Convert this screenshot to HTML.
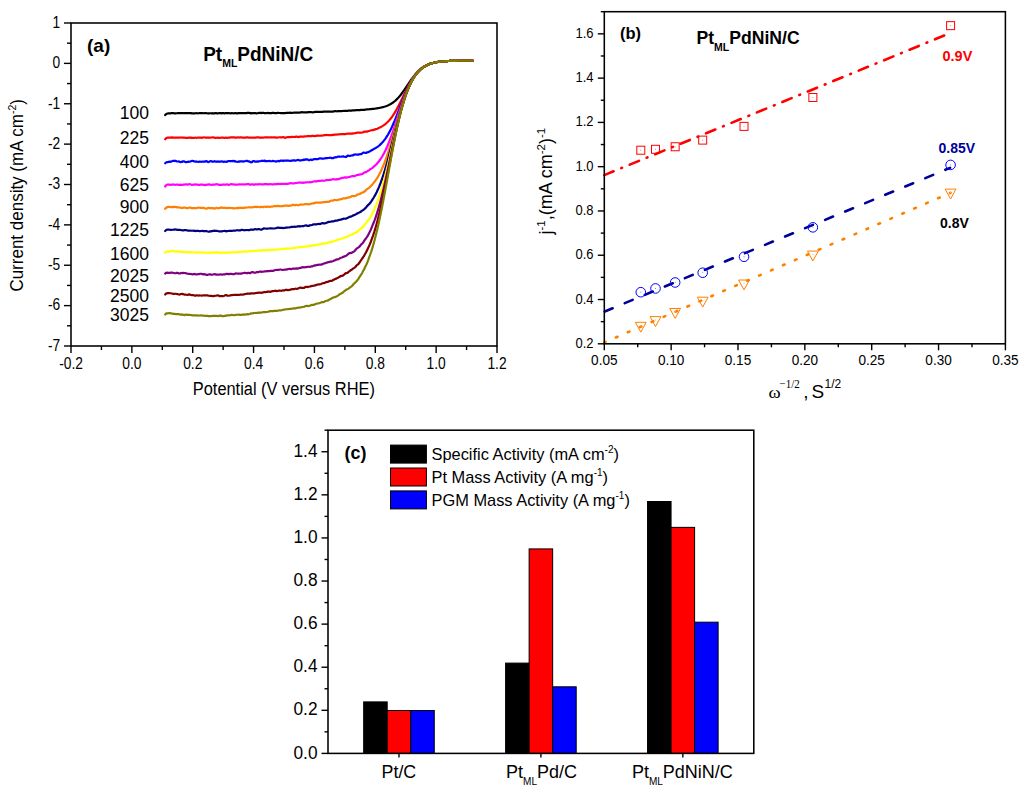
<!DOCTYPE html>
<html><head><meta charset="utf-8"><title>Figure</title>
<style>html,body{margin:0;padding:0;background:#fff;}svg{display:block;}</style>
</head><body>
<svg width="1024" height="795" viewBox="0 0 1024 795" font-family="'Liberation Sans', sans-serif">
<rect width="1024" height="795" fill="#fff"/>
<path d="M165.18,115.05 L165.94,114.18 L166.70,113.88 L167.46,113.51 L168.22,113.42 L168.98,113.44 L169.74,113.39 L170.50,113.41 L171.26,113.08 L172.02,113.04 L172.78,113.01 L173.54,113.22 L174.31,113.28 L175.07,113.32 L175.83,113.33 L176.59,113.26 L177.35,113.21 L178.11,113.13 L178.87,113.17 L179.63,113.15 L180.39,113.11 L181.15,113.07 L181.91,113.10 L182.67,113.21 L183.43,113.21 L184.19,113.06 L184.96,113.06 L185.72,113.11 L186.48,113.17 L187.24,113.21 L188.00,113.21 L188.76,113.22 L189.52,113.13 L190.28,113.10 L191.04,113.12 L191.80,113.32 L192.56,113.27 L193.32,113.37 L194.08,113.29 L194.84,113.34 L195.61,113.24 L196.37,113.17 L197.13,113.25 L197.89,113.29 L198.65,113.26 L199.41,113.11 L200.17,113.07 L200.93,113.06 L201.69,113.07 L202.45,113.13 L203.21,113.20 L203.97,113.23 L204.73,113.18 L205.49,113.14 L206.26,113.22 L207.02,113.24 L207.78,113.38 L208.54,113.29 L209.30,113.28 L210.06,113.23 L210.82,113.26 L211.58,113.35 L212.34,113.21 L213.10,113.33 L213.86,113.33 L214.62,113.33 L215.38,113.14 L216.14,113.21 L216.91,113.29 L217.67,113.34 L218.43,113.24 L219.19,113.12 L219.95,113.21 L220.71,113.15 L221.47,113.31 L222.23,113.15 L222.99,113.17 L223.75,113.13 L224.51,113.32 L225.27,113.22 L226.03,113.15 L226.79,113.00 L227.56,113.03 L228.32,113.05 L229.08,113.14 L229.84,113.25 L230.60,113.32 L231.36,113.20 L232.12,113.24 L232.88,113.22 L233.64,113.32 L234.40,113.22 L235.16,113.15 L235.92,113.20 L236.68,113.32 L237.44,113.35 L238.21,113.20 L238.97,113.05 L239.73,113.04 L240.49,113.13 L241.25,113.15 L242.01,113.18 L242.77,113.11 L243.53,113.17 L244.29,113.15 L245.05,113.20 L245.81,113.12 L246.57,113.11 L247.33,112.95 L248.09,112.89 L248.86,112.81 L249.62,113.09 L250.38,113.19 L251.14,113.32 L251.90,113.16 L252.66,113.28 L253.42,113.17 L254.18,113.13 L254.94,113.07 L255.70,113.20 L256.46,113.31 L257.22,113.22 L257.98,113.12 L258.74,112.95 L259.51,112.96 L260.27,112.95 L261.03,113.06 L261.79,112.94 L262.55,112.94 L263.31,112.86 L264.07,113.03 L264.83,113.08 L265.59,113.21 L266.35,113.05 L267.11,113.00 L267.87,112.96 L268.63,113.08 L269.39,113.08 L270.16,113.11 L270.92,113.13 L271.68,113.13 L272.44,112.93 L273.20,112.89 L273.96,112.95 L274.72,113.16 L275.48,113.22 L276.24,113.16 L277.00,113.03 L277.76,112.94 L278.52,112.95 L279.28,112.99 L280.04,112.98 L280.81,113.08 L281.57,113.11 L282.33,113.10 L283.09,113.04 L283.85,113.03 L284.61,113.08 L285.37,113.04 L286.13,112.95 L286.89,112.91 L287.65,112.88 L288.41,112.87 L289.17,112.79 L289.93,112.66 L290.69,112.82 L291.46,112.78 L292.22,112.90 L292.98,112.74 L293.74,112.72 L294.50,112.61 L295.26,112.53 L296.02,112.55 L296.78,112.50 L297.54,112.55 L298.30,112.55 L299.06,112.57 L299.82,112.56 L300.58,112.40 L301.34,112.36 L302.11,112.17 L302.87,112.28 L303.63,112.34 L304.39,112.43 L305.15,112.36 L305.91,112.34 L306.67,112.30 L307.43,112.32 L308.19,112.16 L308.95,112.20 L309.71,112.10 L310.47,112.21 L311.23,112.20 L311.99,112.28 L312.76,112.29 L313.52,112.19 L314.28,112.06 L315.04,111.95 L315.80,111.89 L316.56,111.83 L317.32,111.79 L318.08,111.79 L318.84,111.88 L319.60,111.97 L320.36,111.90 L321.12,111.97 L321.88,111.80 L322.64,111.82 L323.41,111.62 L324.17,111.64 L324.93,111.66 L325.69,111.68 L326.45,111.68 L327.21,111.61 L327.97,111.60 L328.73,111.55 L329.49,111.52 L330.25,111.54 L331.01,111.51 L331.77,111.60 L332.53,111.53 L333.29,111.56 L334.06,111.33 L334.82,111.21 L335.58,111.22 L336.34,111.25 L337.10,111.30 L337.86,111.21 L338.62,111.15 L339.38,111.14 L340.14,111.15 L340.90,111.16 L341.66,111.11 L342.42,110.96 L343.18,110.99 L343.94,110.91 L344.71,110.83 L345.47,110.79 L346.23,110.84 L346.99,110.85 L347.75,110.78 L348.51,110.60 L349.27,110.55 L350.03,110.54 L350.79,110.66 L351.55,110.64 L352.31,110.41 L353.07,110.33 L353.83,110.28 L354.59,110.35 L355.36,110.30 L356.12,110.13 L356.88,110.15 L357.64,110.06 L358.40,110.14 L359.16,110.02 L359.92,110.09 L360.68,109.94 L361.44,109.94 L362.20,109.81 L362.96,109.92 L363.72,109.90 L364.48,109.81 L365.24,109.63 L366.01,109.48 L366.77,109.38 L367.53,109.34 L368.29,109.32 L369.05,109.27 L369.81,109.20 L370.57,109.13 L371.33,109.06 L372.09,108.95 L372.85,108.86 L373.61,108.80 L374.37,108.72 L375.13,108.58 L375.89,108.47 L376.66,108.38 L377.42,108.29 L378.18,108.14 L378.94,108.02 L379.70,107.87 L380.46,107.71 L381.22,107.54 L381.98,107.36 L382.74,107.17 L383.50,106.96 L384.26,106.73 L385.02,106.49 L385.78,106.23 L386.54,105.95 L387.31,105.65 L388.07,105.33 L388.83,104.98 L389.59,104.60 L390.35,104.20 L391.11,103.76 L391.87,103.29 L392.63,102.78 L393.39,102.24 L394.15,101.65 L394.91,101.03 L395.67,100.36 L396.43,99.65 L397.19,98.90 L397.96,98.10 L398.72,97.26 L399.48,96.38 L400.24,95.46 L401.00,94.49 L401.76,93.49 L402.52,92.46 L403.28,91.40 L404.04,90.31 L404.80,89.21 L405.56,88.08 L406.32,86.95 L407.08,85.81 L407.84,84.66 L408.61,83.53 L409.37,82.40 L410.13,81.29 L410.89,80.20 L411.65,79.13 L412.41,78.09 L413.17,77.08 L413.93,76.10 L414.69,75.16 L415.45,74.26 L416.21,73.39 L416.97,72.56 L417.73,71.77 L418.49,71.02 L419.26,70.31 L420.02,69.64 L420.78,69.00 L421.54,68.41 L422.30,67.84 L423.06,67.32 L423.82,66.82 L424.58,66.36 L425.34,65.93 L426.10,65.52 L426.86,65.15 L427.62,64.80 L428.38,64.47 L429.14,64.17 L429.91,63.89 L430.67,63.63 L431.43,63.38 L432.19,63.16 L432.95,62.95 L433.71,62.76 L434.47,62.59 L435.23,62.43 L435.99,62.28 L436.75,62.14 L437.51,62.01 L438.27,61.89 L439.03,61.79 L439.79,61.69 L440.56,61.60 L441.32,61.52 L442.08,61.44 L442.84,61.37 L443.60,61.31 L444.36,61.25 L445.12,61.19 L445.88,61.15 L446.64,61.10 L447.40,61.06 L448.16,61.02 L448.92,60.99 L449.68,60.96 L450.44,60.93 L451.21,60.91 L451.97,60.88 L452.73,60.86 L453.49,60.84 L454.25,60.83 L455.01,60.81 L455.77,60.80 L456.53,60.78 L457.29,60.77 L458.05,60.76 L458.81,60.75 L459.57,60.74 L460.33,60.74 L461.09,60.73 L461.86,60.72 L462.62,60.72 L463.38,60.71 L464.14,60.71 L464.90,60.70 L465.66,60.70 L466.42,60.70 L467.18,60.69 L467.94,60.69 L468.70,60.69 L469.46,60.69 L470.22,60.68 L470.98,60.68 L471.74,60.68 L472.51,60.68" fill="none" stroke="#000000" stroke-width="2.2" stroke-linejoin="round" stroke-linecap="round"/>
<path d="M165.18,139.25 L165.94,138.33 L166.70,137.93 L167.46,137.71 L168.22,137.61 L168.98,137.54 L169.74,137.66 L170.50,137.57 L171.26,137.60 L172.02,137.37 L172.78,137.65 L173.54,137.61 L174.31,137.69 L175.07,137.56 L175.83,137.58 L176.59,137.60 L177.35,137.52 L178.11,137.60 L178.87,137.67 L179.63,137.64 L180.39,137.49 L181.15,137.47 L181.91,137.55 L182.67,137.63 L183.43,137.56 L184.19,137.65 L184.96,137.77 L185.72,137.85 L186.48,137.85 L187.24,137.79 L188.00,137.79 L188.76,137.67 L189.52,137.71 L190.28,137.65 L191.04,137.83 L191.80,137.70 L192.56,137.89 L193.32,137.85 L194.08,137.84 L194.84,137.75 L195.61,137.71 L196.37,137.80 L197.13,137.73 L197.89,137.67 L198.65,137.63 L199.41,137.59 L200.17,137.64 L200.93,137.68 L201.69,137.80 L202.45,137.65 L203.21,137.53 L203.97,137.39 L204.73,137.48 L205.49,137.58 L206.26,137.61 L207.02,137.64 L207.78,137.56 L208.54,137.57 L209.30,137.60 L210.06,137.67 L210.82,137.74 L211.58,137.54 L212.34,137.33 L213.10,137.32 L213.86,137.46 L214.62,137.86 L215.38,137.83 L216.14,137.83 L216.91,137.73 L217.67,137.69 L218.43,137.81 L219.19,137.74 L219.95,137.79 L220.71,137.77 L221.47,137.68 L222.23,137.61 L222.99,137.62 L223.75,137.80 L224.51,137.83 L225.27,137.72 L226.03,137.71 L226.79,137.78 L227.56,137.78 L228.32,137.69 L229.08,137.60 L229.84,137.56 L230.60,137.41 L231.36,137.36 L232.12,137.33 L232.88,137.39 L233.64,137.39 L234.40,137.39 L235.16,137.57 L235.92,137.61 L236.68,137.65 L237.44,137.42 L238.21,137.48 L238.97,137.44 L239.73,137.54 L240.49,137.41 L241.25,137.44 L242.01,137.49 L242.77,137.59 L243.53,137.64 L244.29,137.60 L245.05,137.63 L245.81,137.56 L246.57,137.42 L247.33,137.45 L248.09,137.46 L248.86,137.63 L249.62,137.54 L250.38,137.64 L251.14,137.67 L251.90,137.73 L252.66,137.58 L253.42,137.53 L254.18,137.56 L254.94,137.67 L255.70,137.62 L256.46,137.46 L257.22,137.36 L257.98,137.38 L258.74,137.46 L259.51,137.56 L260.27,137.59 L261.03,137.65 L261.79,137.54 L262.55,137.52 L263.31,137.59 L264.07,137.52 L264.83,137.37 L265.59,137.29 L266.35,137.34 L267.11,137.45 L267.87,137.36 L268.63,137.51 L269.39,137.40 L270.16,137.49 L270.92,137.26 L271.68,137.38 L272.44,137.37 L273.20,137.48 L273.96,137.41 L274.72,137.44 L275.48,137.45 L276.24,137.56 L277.00,137.62 L277.76,137.48 L278.52,137.39 L279.28,137.24 L280.04,137.24 L280.81,137.36 L281.57,137.35 L282.33,137.29 L283.09,137.12 L283.85,137.27 L284.61,137.67 L285.37,137.81 L286.13,137.52 L286.89,137.27 L287.65,137.18 L288.41,137.20 L289.17,137.20 L289.93,137.14 L290.69,137.10 L291.46,136.96 L292.22,136.92 L292.98,137.00 L293.74,136.97 L294.50,137.00 L295.26,136.82 L296.02,136.62 L296.78,136.61 L297.54,136.86 L298.30,137.06 L299.06,136.94 L299.82,136.64 L300.58,136.48 L301.34,136.54 L302.11,136.65 L302.87,136.59 L303.63,136.58 L304.39,136.39 L305.15,136.47 L305.91,136.28 L306.67,136.27 L307.43,136.15 L308.19,136.10 L308.95,136.19 L309.71,136.19 L310.47,136.21 L311.23,136.07 L311.99,135.95 L312.76,135.93 L313.52,135.97 L314.28,136.08 L315.04,136.04 L315.80,135.88 L316.56,135.85 L317.32,135.68 L318.08,135.68 L318.84,135.59 L319.60,135.75 L320.36,135.71 L321.12,135.59 L321.88,135.59 L322.64,135.47 L323.41,135.35 L324.17,135.14 L324.93,135.15 L325.69,135.04 L326.45,134.93 L327.21,134.99 L327.97,135.14 L328.73,135.21 L329.49,135.10 L330.25,135.24 L331.01,135.12 L331.77,135.11 L332.53,134.85 L333.29,134.87 L334.06,134.70 L334.82,134.69 L335.58,134.69 L336.34,134.66 L337.10,134.47 L337.86,134.37 L338.62,134.25 L339.38,134.29 L340.14,134.25 L340.90,134.18 L341.66,134.21 L342.42,134.03 L343.18,134.13 L343.94,133.97 L344.71,134.09 L345.47,134.06 L346.23,133.95 L346.99,133.78 L347.75,133.65 L348.51,133.71 L349.27,133.63 L350.03,133.69 L350.79,133.68 L351.55,133.67 L352.31,133.56 L353.07,133.46 L353.83,133.38 L354.59,133.25 L355.36,133.14 L356.12,132.92 L356.88,132.74 L357.64,132.54 L358.40,132.59 L359.16,132.62 L359.92,132.74 L360.68,132.67 L361.44,132.70 L362.20,132.52 L362.96,132.32 L363.72,131.91 L364.48,131.66 L365.24,131.67 L366.01,131.63 L366.77,131.63 L367.53,131.35 L368.29,131.25 L369.05,130.98 L369.81,130.71 L370.57,130.49 L371.33,130.25 L372.09,130.19 L372.85,130.06 L373.61,129.89 L374.37,129.60 L375.13,129.38 L375.89,129.16 L376.66,128.97 L377.42,128.66 L378.18,128.32 L378.94,127.96 L379.70,127.61 L380.46,127.24 L381.22,126.82 L381.98,126.38 L382.74,125.91 L383.50,125.40 L384.26,124.86 L385.02,124.29 L385.78,123.67 L386.54,123.01 L387.31,122.31 L388.07,121.56 L388.83,120.76 L389.59,119.91 L390.35,119.01 L391.11,118.05 L391.87,117.04 L392.63,115.97 L393.39,114.84 L394.15,113.66 L394.91,112.42 L395.67,111.13 L396.43,109.79 L397.19,108.40 L397.96,106.97 L398.72,105.49 L399.48,103.99 L400.24,102.45 L401.00,100.89 L401.76,99.32 L402.52,97.74 L403.28,96.15 L404.04,94.57 L404.80,93.00 L405.56,91.44 L406.32,89.91 L407.08,88.40 L407.84,86.93 L408.61,85.50 L409.37,84.10 L410.13,82.75 L410.89,81.45 L411.65,80.20 L412.41,79.00 L413.17,77.85 L413.93,76.75 L414.69,75.70 L415.45,74.71 L416.21,73.76 L416.97,72.87 L417.73,72.03 L418.49,71.23 L419.26,70.49 L420.02,69.78 L420.78,69.12 L421.54,68.50 L422.30,67.92 L423.06,67.38 L423.82,66.87 L424.58,66.40 L425.34,65.96 L426.10,65.55 L426.86,65.17 L427.62,64.81 L428.38,64.48 L429.14,64.18 L429.91,63.90 L430.67,63.63 L431.43,63.39 L432.19,63.17 L432.95,62.96 L433.71,62.77 L434.47,62.59 L435.23,62.43 L435.99,62.28 L436.75,62.14 L437.51,62.01 L438.27,61.89 L439.03,61.79 L439.79,61.69 L440.56,61.60 L441.32,61.52 L442.08,61.44 L442.84,61.37 L443.60,61.31 L444.36,61.25 L445.12,61.19 L445.88,61.15 L446.64,61.10 L447.40,61.06 L448.16,61.02 L448.92,60.99 L449.68,60.96 L450.44,60.93 L451.21,60.91 L451.97,60.88 L452.73,60.86 L453.49,60.84 L454.25,60.83 L455.01,60.81 L455.77,60.80 L456.53,60.78 L457.29,60.77 L458.05,60.76 L458.81,60.75 L459.57,60.74 L460.33,60.74 L461.09,60.73 L461.86,60.72 L462.62,60.72 L463.38,60.71 L464.14,60.71 L464.90,60.70 L465.66,60.70 L466.42,60.70 L467.18,60.69 L467.94,60.69 L468.70,60.69 L469.46,60.69 L470.22,60.68 L470.98,60.68 L471.74,60.68 L472.51,60.68" fill="none" stroke="#FF0000" stroke-width="2.2" stroke-linejoin="round" stroke-linecap="round"/>
<path d="M165.18,163.26 L165.94,162.59 L166.70,162.14 L167.46,162.27 L168.22,161.89 L168.98,161.85 L169.74,161.61 L170.50,161.88 L171.26,161.50 L172.02,161.17 L172.78,160.92 L173.54,160.81 L174.31,161.05 L175.07,160.69 L175.83,160.97 L176.59,161.36 L177.35,161.48 L178.11,161.52 L178.87,161.43 L179.63,161.82 L180.39,162.09 L181.15,161.93 L181.91,162.01 L182.67,161.44 L183.43,161.29 L184.19,161.40 L184.96,161.94 L185.72,162.16 L186.48,162.21 L187.24,161.96 L188.00,161.86 L188.76,161.65 L189.52,161.73 L190.28,161.63 L191.04,161.24 L191.80,160.87 L192.56,160.95 L193.32,161.05 L194.08,161.46 L194.84,161.39 L195.61,161.72 L196.37,161.45 L197.13,161.75 L197.89,161.75 L198.65,161.89 L199.41,161.56 L200.17,161.65 L200.93,161.74 L201.69,161.82 L202.45,161.52 L203.21,161.57 L203.97,161.58 L204.73,161.67 L205.49,161.26 L206.26,161.18 L207.02,161.37 L207.78,162.02 L208.54,162.11 L209.30,161.65 L210.06,161.22 L210.82,161.08 L211.58,161.38 L212.34,161.66 L213.10,161.68 L213.86,161.58 L214.62,161.21 L215.38,161.59 L216.14,161.58 L216.91,161.82 L217.67,161.42 L218.43,161.56 L219.19,161.55 L219.95,161.80 L220.71,161.47 L221.47,161.35 L222.23,161.38 L222.99,161.80 L223.75,161.99 L224.51,161.58 L225.27,161.73 L226.03,161.69 L226.79,161.84 L227.56,161.29 L228.32,161.16 L229.08,161.13 L229.84,161.21 L230.60,161.00 L231.36,161.13 L232.12,160.97 L232.88,161.11 L233.64,160.83 L234.40,161.32 L235.16,161.19 L235.92,161.69 L236.68,161.76 L237.44,161.83 L238.21,161.75 L238.97,161.39 L239.73,161.67 L240.49,161.23 L241.25,161.30 L242.01,161.31 L242.77,161.56 L243.53,161.40 L244.29,161.33 L245.05,161.26 L245.81,161.05 L246.57,160.74 L247.33,160.84 L248.09,161.31 L248.86,161.35 L249.62,161.62 L250.38,162.07 L251.14,162.29 L251.90,162.20 L252.66,161.33 L253.42,161.18 L254.18,161.15 L254.94,161.68 L255.70,161.60 L256.46,161.57 L257.22,161.46 L257.98,161.56 L258.74,161.39 L259.51,161.26 L260.27,161.21 L261.03,160.99 L261.79,160.69 L262.55,161.00 L263.31,160.76 L264.07,161.04 L264.83,160.51 L265.59,161.10 L266.35,161.06 L267.11,161.24 L267.87,161.08 L268.63,160.98 L269.39,160.89 L270.16,161.09 L270.92,161.26 L271.68,161.23 L272.44,160.92 L273.20,160.95 L273.96,161.12 L274.72,161.27 L275.48,161.40 L276.24,161.57 L277.00,161.25 L277.76,161.12 L278.52,160.86 L279.28,161.27 L280.04,160.94 L280.81,160.63 L281.57,160.52 L282.33,160.64 L283.09,161.07 L283.85,160.69 L284.61,160.59 L285.37,160.58 L286.13,160.65 L286.89,160.72 L287.65,160.46 L288.41,160.60 L289.17,160.75 L289.93,160.89 L290.69,160.80 L291.46,160.65 L292.22,160.69 L292.98,160.39 L293.74,160.38 L294.50,160.27 L295.26,160.72 L296.02,160.51 L296.78,160.19 L297.54,159.97 L298.30,159.89 L299.06,160.29 L299.82,160.36 L300.58,160.55 L301.34,160.23 L302.11,160.02 L302.87,160.25 L303.63,159.63 L304.39,159.82 L305.15,159.34 L305.91,159.70 L306.67,159.33 L307.43,159.30 L308.19,159.92 L308.95,160.22 L309.71,160.06 L310.47,159.65 L311.23,159.58 L311.99,160.09 L312.76,159.65 L313.52,159.30 L314.28,158.98 L315.04,159.17 L315.80,159.22 L316.56,159.20 L317.32,159.17 L318.08,159.05 L318.84,158.68 L319.60,158.35 L320.36,158.33 L321.12,158.45 L321.88,158.55 L322.64,158.61 L323.41,158.70 L324.17,158.51 L324.93,158.40 L325.69,158.09 L326.45,158.12 L327.21,158.18 L327.97,158.02 L328.73,157.99 L329.49,157.74 L330.25,157.71 L331.01,157.86 L331.77,158.17 L332.53,158.22 L333.29,158.18 L334.06,157.54 L334.82,157.37 L335.58,157.22 L336.34,157.29 L337.10,157.01 L337.86,156.63 L338.62,156.49 L339.38,156.57 L340.14,156.75 L340.90,156.75 L341.66,156.64 L342.42,156.52 L343.18,156.36 L343.94,156.58 L344.71,156.77 L345.47,157.04 L346.23,156.83 L346.99,156.19 L347.75,155.58 L348.51,155.59 L349.27,156.02 L350.03,155.99 L350.79,155.63 L351.55,155.50 L352.31,155.35 L353.07,155.29 L353.83,154.69 L354.59,154.70 L355.36,154.45 L356.12,154.50 L356.88,154.60 L357.64,154.67 L358.40,154.70 L359.16,154.23 L359.92,154.21 L360.68,154.20 L361.44,154.05 L362.20,153.48 L362.96,152.75 L363.72,152.48 L364.48,152.75 L365.24,152.92 L366.01,152.99 L366.77,152.46 L367.53,152.44 L368.29,152.06 L369.05,151.71 L369.81,151.23 L370.57,150.89 L371.33,150.44 L372.09,149.97 L372.85,149.51 L373.61,149.15 L374.37,148.71 L375.13,148.33 L375.89,147.96 L376.66,147.40 L377.42,146.91 L378.18,146.35 L378.94,145.74 L379.70,145.09 L380.46,144.37 L381.22,143.62 L381.98,142.83 L382.74,141.99 L383.50,141.09 L384.26,140.13 L385.02,139.12 L385.78,138.05 L386.54,136.91 L387.31,135.71 L388.07,134.45 L388.83,133.12 L389.59,131.72 L390.35,130.26 L391.11,128.73 L391.87,127.14 L392.63,125.48 L393.39,123.77 L394.15,121.99 L394.91,120.17 L395.67,118.31 L396.43,116.40 L397.19,114.46 L397.96,112.50 L398.72,110.52 L399.48,108.53 L400.24,106.54 L401.00,104.55 L401.76,102.57 L402.52,100.62 L403.28,98.69 L404.04,96.80 L404.80,94.94 L405.56,93.13 L406.32,91.37 L407.08,89.67 L407.84,88.01 L408.61,86.42 L409.37,84.89 L410.13,83.42 L410.89,82.02 L411.65,80.67 L412.41,79.40 L413.17,78.18 L413.93,77.03 L414.69,75.93 L415.45,74.90 L416.21,73.92 L416.97,73.00 L417.73,72.14 L418.49,71.32 L419.26,70.56 L420.02,69.84 L420.78,69.17 L421.54,68.54 L422.30,67.95 L423.06,67.41 L423.82,66.89 L424.58,66.42 L425.34,65.97 L426.10,65.56 L426.86,65.18 L427.62,64.82 L428.38,64.49 L429.14,64.18 L429.91,63.90 L430.67,63.64 L431.43,63.39 L432.19,63.17 L432.95,62.96 L433.71,62.77 L434.47,62.59 L435.23,62.43 L435.99,62.28 L436.75,62.14 L437.51,62.01 L438.27,61.90 L439.03,61.79 L439.79,61.69 L440.56,61.60 L441.32,61.52 L442.08,61.44 L442.84,61.37 L443.60,61.31 L444.36,61.25 L445.12,61.19 L445.88,61.15 L446.64,61.10 L447.40,61.06 L448.16,61.02 L448.92,60.99 L449.68,60.96 L450.44,60.93 L451.21,60.91 L451.97,60.88 L452.73,60.86 L453.49,60.84 L454.25,60.83 L455.01,60.81 L455.77,60.80 L456.53,60.78 L457.29,60.77 L458.05,60.76 L458.81,60.75 L459.57,60.74 L460.33,60.74 L461.09,60.73 L461.86,60.72 L462.62,60.72 L463.38,60.71 L464.14,60.71 L464.90,60.70 L465.66,60.70 L466.42,60.70 L467.18,60.69 L467.94,60.69 L468.70,60.69 L469.46,60.69 L470.22,60.68 L470.98,60.68 L471.74,60.68 L472.51,60.68" fill="none" stroke="#0000FF" stroke-width="2.2" stroke-linejoin="round" stroke-linecap="round"/>
<path d="M165.18,186.48 L165.94,185.49 L166.70,184.77 L167.46,184.57 L168.22,184.54 L168.98,184.64 L169.74,184.71 L170.50,184.81 L171.26,184.72 L172.02,184.50 L172.78,184.56 L173.54,184.43 L174.31,184.74 L175.07,184.73 L175.83,184.86 L176.59,184.53 L177.35,184.52 L178.11,184.77 L178.87,184.87 L179.63,184.80 L180.39,184.68 L181.15,184.86 L181.91,184.94 L182.67,184.80 L183.43,184.60 L184.19,184.69 L184.96,184.43 L185.72,184.52 L186.48,184.39 L187.24,184.59 L188.00,184.57 L188.76,184.24 L189.52,184.20 L190.28,184.26 L191.04,184.59 L191.80,184.78 L192.56,184.78 L193.32,184.65 L194.08,184.67 L194.84,184.44 L195.61,184.53 L196.37,184.47 L197.13,184.55 L197.89,184.78 L198.65,184.88 L199.41,184.92 L200.17,184.68 L200.93,184.57 L201.69,184.60 L202.45,184.67 L203.21,184.69 L203.97,184.91 L204.73,185.06 L205.49,184.89 L206.26,184.84 L207.02,184.70 L207.78,184.68 L208.54,184.44 L209.30,184.42 L210.06,184.65 L210.82,184.79 L211.58,184.84 L212.34,184.71 L213.10,184.68 L213.86,184.55 L214.62,184.53 L215.38,184.46 L216.14,184.25 L216.91,184.16 L217.67,184.45 L218.43,184.56 L219.19,184.88 L219.95,184.84 L220.71,184.87 L221.47,184.81 L222.23,184.68 L222.99,184.63 L223.75,184.62 L224.51,184.69 L225.27,184.78 L226.03,184.55 L226.79,184.37 L227.56,184.59 L228.32,184.82 L229.08,184.90 L229.84,184.47 L230.60,184.28 L231.36,184.15 L232.12,184.24 L232.88,184.38 L233.64,184.42 L234.40,184.50 L235.16,184.57 L235.92,184.63 L236.68,184.62 L237.44,184.62 L238.21,184.52 L238.97,184.49 L239.73,184.22 L240.49,184.41 L241.25,184.48 L242.01,184.42 L242.77,184.23 L243.53,184.33 L244.29,184.47 L245.05,184.39 L245.81,184.29 L246.57,184.26 L247.33,184.12 L248.09,184.10 L248.86,184.16 L249.62,184.58 L250.38,184.65 L251.14,184.44 L251.90,184.33 L252.66,184.39 L253.42,184.67 L254.18,184.64 L254.94,184.40 L255.70,184.36 L256.46,184.27 L257.22,184.41 L257.98,184.27 L258.74,184.28 L259.51,184.14 L260.27,184.22 L261.03,184.29 L261.79,184.30 L262.55,184.39 L263.31,184.34 L264.07,184.32 L264.83,184.03 L265.59,184.04 L266.35,184.12 L267.11,184.21 L267.87,184.29 L268.63,184.28 L269.39,184.23 L270.16,184.10 L270.92,184.18 L271.68,184.26 L272.44,184.54 L273.20,184.30 L273.96,184.31 L274.72,184.01 L275.48,184.23 L276.24,184.16 L277.00,184.12 L277.76,183.85 L278.52,183.99 L279.28,183.93 L280.04,184.05 L280.81,183.95 L281.57,183.97 L282.33,183.96 L283.09,183.88 L283.85,183.99 L284.61,183.90 L285.37,183.82 L286.13,183.72 L286.89,183.83 L287.65,183.86 L288.41,183.75 L289.17,183.43 L289.93,183.33 L290.69,183.16 L291.46,183.27 L292.22,183.35 L292.98,183.40 L293.74,183.46 L294.50,183.23 L295.26,183.12 L296.02,182.99 L296.78,182.99 L297.54,182.76 L298.30,182.64 L299.06,182.54 L299.82,182.68 L300.58,182.66 L301.34,182.64 L302.11,182.62 L302.87,182.84 L303.63,182.59 L304.39,182.70 L305.15,182.47 L305.91,182.51 L306.67,182.31 L307.43,182.26 L308.19,182.23 L308.95,182.30 L309.71,182.16 L310.47,182.29 L311.23,182.18 L311.99,181.98 L312.76,181.71 L313.52,181.50 L314.28,181.36 L315.04,181.30 L315.80,181.34 L316.56,181.41 L317.32,181.13 L318.08,180.97 L318.84,180.82 L319.60,180.96 L320.36,180.85 L321.12,180.76 L321.88,180.67 L322.64,180.64 L323.41,180.71 L324.17,180.74 L324.93,180.59 L325.69,180.32 L326.45,180.02 L327.21,179.97 L327.97,180.08 L328.73,180.02 L329.49,179.86 L330.25,179.85 L331.01,179.73 L331.77,179.64 L332.53,179.15 L333.29,179.28 L334.06,179.41 L334.82,179.41 L335.58,179.38 L336.34,179.21 L337.10,179.32 L337.86,179.12 L338.62,179.15 L339.38,178.93 L340.14,178.57 L340.90,178.17 L341.66,177.96 L342.42,178.00 L343.18,177.76 L343.94,177.62 L344.71,177.33 L345.47,177.56 L346.23,177.45 L346.99,177.58 L347.75,177.22 L348.51,177.10 L349.27,176.96 L350.03,176.84 L350.79,176.58 L351.55,176.24 L352.31,176.04 L353.07,176.12 L353.83,176.10 L354.59,176.13 L355.36,175.83 L356.12,175.41 L356.88,175.02 L357.64,174.83 L358.40,174.89 L359.16,174.66 L359.92,174.44 L360.68,174.28 L361.44,174.28 L362.20,174.01 L362.96,173.60 L363.72,172.88 L364.48,172.51 L365.24,172.18 L366.01,172.08 L366.77,171.51 L367.53,171.10 L368.29,170.55 L369.05,170.22 L369.81,169.52 L370.57,169.06 L371.33,168.61 L372.09,168.12 L372.85,167.56 L373.61,166.84 L374.37,166.21 L375.13,165.41 L375.89,164.71 L376.66,163.90 L377.42,163.14 L378.18,162.23 L378.94,161.28 L379.70,160.24 L380.46,159.16 L381.22,158.02 L381.98,156.82 L382.74,155.54 L383.50,154.19 L384.26,152.77 L385.02,151.27 L385.78,149.70 L386.54,148.06 L387.31,146.34 L388.07,144.54 L388.83,142.67 L389.59,140.73 L390.35,138.73 L391.11,136.65 L391.87,134.52 L392.63,132.33 L393.39,130.10 L394.15,127.82 L394.91,125.51 L395.67,123.17 L396.43,120.81 L397.19,118.45 L397.96,116.08 L398.72,113.72 L399.48,111.38 L400.24,109.06 L401.00,106.78 L401.76,104.53 L402.52,102.33 L403.28,100.18 L404.04,98.09 L404.80,96.06 L405.56,94.09 L406.32,92.20 L407.08,90.37 L407.84,88.61 L408.61,86.93 L409.37,85.32 L410.13,83.78 L410.89,82.32 L411.65,80.93 L412.41,79.61 L413.17,78.36 L413.93,77.17 L414.69,76.05 L415.45,75.00 L416.21,74.01 L416.97,73.07 L417.73,72.19 L418.49,71.37 L419.26,70.60 L420.02,69.87 L420.78,69.19 L421.54,68.56 L422.30,67.97 L423.06,67.42 L423.82,66.90 L424.58,66.43 L425.34,65.98 L426.10,65.57 L426.86,65.18 L427.62,64.82 L428.38,64.49 L429.14,64.19 L429.91,63.90 L430.67,63.64 L431.43,63.39 L432.19,63.17 L432.95,62.96 L433.71,62.77 L434.47,62.59 L435.23,62.43 L435.99,62.28 L436.75,62.14 L437.51,62.01 L438.27,61.90 L439.03,61.79 L439.79,61.69 L440.56,61.60 L441.32,61.52 L442.08,61.44 L442.84,61.37 L443.60,61.31 L444.36,61.25 L445.12,61.19 L445.88,61.15 L446.64,61.10 L447.40,61.06 L448.16,61.02 L448.92,60.99 L449.68,60.96 L450.44,60.93 L451.21,60.91 L451.97,60.88 L452.73,60.86 L453.49,60.84 L454.25,60.83 L455.01,60.81 L455.77,60.80 L456.53,60.78 L457.29,60.77 L458.05,60.76 L458.81,60.75 L459.57,60.74 L460.33,60.74 L461.09,60.73 L461.86,60.72 L462.62,60.72 L463.38,60.71 L464.14,60.71 L464.90,60.70 L465.66,60.70 L466.42,60.70 L467.18,60.69 L467.94,60.69 L468.70,60.69 L469.46,60.69 L470.22,60.68 L470.98,60.68 L471.74,60.68 L472.51,60.68" fill="none" stroke="#FF00FF" stroke-width="2.2" stroke-linejoin="round" stroke-linecap="round"/>
<path d="M165.18,208.85 L165.94,207.99 L166.70,207.56 L167.46,207.00 L168.22,206.87 L168.98,206.77 L169.74,207.03 L170.50,207.12 L171.26,207.12 L172.02,207.08 L172.78,206.94 L173.54,207.08 L174.31,206.92 L175.07,206.83 L175.83,207.04 L176.59,207.10 L177.35,207.36 L178.11,207.23 L178.87,207.49 L179.63,207.48 L180.39,207.70 L181.15,207.80 L181.91,208.00 L182.67,207.85 L183.43,207.68 L184.19,207.51 L184.96,207.53 L185.72,207.73 L186.48,208.05 L187.24,208.07 L188.00,208.00 L188.76,207.76 L189.52,207.65 L190.28,207.71 L191.04,207.79 L191.80,208.26 L192.56,208.19 L193.32,208.18 L194.08,208.01 L194.84,208.04 L195.61,208.18 L196.37,208.17 L197.13,207.99 L197.89,207.78 L198.65,207.62 L199.41,207.77 L200.17,207.80 L200.93,207.90 L201.69,207.72 L202.45,207.81 L203.21,207.76 L203.97,208.07 L204.73,208.11 L205.49,208.50 L206.26,208.71 L207.02,208.49 L207.78,208.02 L208.54,207.84 L209.30,208.04 L210.06,208.14 L210.82,208.21 L211.58,208.00 L212.34,208.20 L213.10,208.17 L213.86,208.72 L214.62,208.41 L215.38,208.31 L216.14,207.78 L216.91,208.08 L217.67,208.04 L218.43,208.23 L219.19,208.08 L219.95,207.86 L220.71,207.59 L221.47,207.44 L222.23,207.73 L222.99,207.89 L223.75,207.88 L224.51,207.75 L225.27,207.78 L226.03,207.87 L226.79,208.04 L227.56,208.06 L228.32,207.91 L229.08,207.91 L229.84,207.92 L230.60,207.99 L231.36,208.02 L232.12,208.03 L232.88,208.32 L233.64,208.21 L234.40,208.34 L235.16,208.23 L235.92,208.19 L236.68,208.04 L237.44,207.93 L238.21,208.14 L238.97,207.89 L239.73,207.88 L240.49,207.70 L241.25,207.94 L242.01,207.85 L242.77,207.81 L243.53,207.76 L244.29,207.83 L245.05,207.62 L245.81,207.63 L246.57,207.49 L247.33,207.49 L248.09,207.39 L248.86,207.26 L249.62,207.27 L250.38,207.37 L251.14,207.45 L251.90,207.41 L252.66,207.24 L253.42,207.22 L254.18,206.92 L254.94,206.86 L255.70,206.80 L256.46,207.08 L257.22,206.92 L257.98,206.95 L258.74,206.98 L259.51,207.26 L260.27,207.15 L261.03,206.93 L261.79,206.94 L262.55,207.06 L263.31,207.04 L264.07,206.69 L264.83,206.73 L265.59,206.82 L266.35,206.81 L267.11,206.68 L267.87,206.65 L268.63,206.78 L269.39,206.84 L270.16,206.74 L270.92,206.61 L271.68,206.58 L272.44,206.54 L273.20,206.41 L273.96,206.18 L274.72,206.04 L275.48,206.20 L276.24,206.03 L277.00,206.20 L277.76,205.87 L278.52,206.05 L279.28,206.00 L280.04,206.30 L280.81,206.26 L281.57,206.19 L282.33,206.12 L283.09,206.07 L283.85,205.88 L284.61,205.65 L285.37,205.60 L286.13,205.48 L286.89,205.66 L287.65,205.70 L288.41,205.93 L289.17,205.69 L289.93,205.70 L290.69,205.68 L291.46,205.54 L292.22,205.09 L292.98,204.70 L293.74,204.98 L294.50,205.13 L295.26,205.13 L296.02,204.87 L296.78,205.01 L297.54,205.09 L298.30,205.24 L299.06,205.13 L299.82,204.76 L300.58,204.41 L301.34,204.37 L302.11,204.75 L302.87,204.70 L303.63,204.53 L304.39,204.21 L305.15,204.27 L305.91,204.15 L306.67,204.11 L307.43,204.08 L308.19,204.22 L308.95,204.31 L309.71,204.20 L310.47,203.91 L311.23,203.69 L311.99,203.53 L312.76,203.37 L313.52,203.38 L314.28,203.12 L315.04,202.86 L315.80,202.62 L316.56,202.68 L317.32,202.68 L318.08,202.56 L318.84,202.47 L319.60,202.55 L320.36,202.62 L321.12,202.69 L321.88,202.50 L322.64,202.17 L323.41,202.06 L324.17,202.05 L324.93,202.06 L325.69,201.88 L326.45,201.85 L327.21,201.82 L327.97,201.89 L328.73,201.69 L329.49,201.56 L330.25,200.94 L331.01,200.69 L331.77,200.57 L332.53,200.70 L333.29,200.47 L334.06,200.10 L334.82,199.94 L335.58,200.02 L336.34,200.25 L337.10,200.16 L337.86,200.02 L338.62,199.78 L339.38,199.38 L340.14,199.43 L340.90,199.19 L341.66,199.19 L342.42,198.75 L343.18,198.36 L343.94,198.41 L344.71,198.38 L345.47,198.40 L346.23,198.03 L346.99,197.81 L347.75,197.73 L348.51,197.43 L349.27,197.32 L350.03,197.10 L350.79,196.86 L351.55,196.32 L352.31,195.93 L353.07,195.99 L353.83,196.07 L354.59,196.04 L355.36,195.82 L356.12,195.49 L356.88,194.95 L357.64,194.49 L358.40,194.22 L359.16,194.14 L359.92,193.96 L360.68,193.36 L361.44,193.13 L362.20,192.56 L362.96,192.46 L363.72,191.90 L364.48,191.64 L365.24,190.86 L366.01,190.22 L366.77,189.18 L367.53,188.84 L368.29,188.34 L369.05,187.91 L369.81,187.06 L370.57,186.27 L371.33,185.71 L372.09,184.82 L372.85,183.90 L373.61,182.84 L374.37,182.00 L375.13,180.98 L375.89,179.94 L376.66,178.77 L377.42,177.59 L378.18,176.26 L378.94,174.93 L379.70,173.51 L380.46,172.02 L381.22,170.44 L381.98,168.78 L382.74,167.04 L383.50,165.22 L384.26,163.31 L385.02,161.32 L385.78,159.25 L386.54,157.10 L387.31,154.86 L388.07,152.56 L388.83,150.18 L389.59,147.73 L390.35,145.23 L391.11,142.67 L391.87,140.06 L392.63,137.42 L393.39,134.74 L394.15,132.04 L394.91,129.32 L395.67,126.61 L396.43,123.90 L397.19,121.20 L397.96,118.53 L398.72,115.89 L399.48,113.29 L400.24,110.74 L401.00,108.24 L401.76,105.81 L402.52,103.44 L403.28,101.14 L404.04,98.91 L404.80,96.77 L405.56,94.70 L406.32,92.71 L407.08,90.80 L407.84,88.98 L408.61,87.24 L409.37,85.58 L410.13,84.00 L410.89,82.50 L411.65,81.08 L412.41,79.74 L413.17,78.46 L413.93,77.26 L414.69,76.13 L415.45,75.06 L416.21,74.06 L416.97,73.11 L417.73,72.23 L418.49,71.40 L419.26,70.62 L420.02,69.89 L420.78,69.21 L421.54,68.57 L422.30,67.98 L423.06,67.43 L423.82,66.91 L424.58,66.43 L425.34,65.98 L426.10,65.57 L426.86,65.18 L427.62,64.83 L428.38,64.49 L429.14,64.19 L429.91,63.90 L430.67,63.64 L431.43,63.39 L432.19,63.17 L432.95,62.96 L433.71,62.77 L434.47,62.59 L435.23,62.43 L435.99,62.28 L436.75,62.14 L437.51,62.01 L438.27,61.90 L439.03,61.79 L439.79,61.69 L440.56,61.60 L441.32,61.52 L442.08,61.44 L442.84,61.37 L443.60,61.31 L444.36,61.25 L445.12,61.19 L445.88,61.15 L446.64,61.10 L447.40,61.06 L448.16,61.02 L448.92,60.99 L449.68,60.96 L450.44,60.93 L451.21,60.91 L451.97,60.88 L452.73,60.86 L453.49,60.84 L454.25,60.83 L455.01,60.81 L455.77,60.80 L456.53,60.78 L457.29,60.77 L458.05,60.76 L458.81,60.75 L459.57,60.74 L460.33,60.74 L461.09,60.73 L461.86,60.72 L462.62,60.72 L463.38,60.71 L464.14,60.71 L464.90,60.70 L465.66,60.70 L466.42,60.70 L467.18,60.69 L467.94,60.69 L468.70,60.69 L469.46,60.69 L470.22,60.68 L470.98,60.68 L471.74,60.68 L472.51,60.68" fill="none" stroke="#FF8000" stroke-width="2.2" stroke-linejoin="round" stroke-linecap="round"/>
<path d="M165.18,230.97 L165.94,230.17 L166.70,229.81 L167.46,229.55 L168.22,229.49 L168.98,229.56 L169.74,229.74 L170.50,229.84 L171.26,229.88 L172.02,229.73 L172.78,229.75 L173.54,229.71 L174.31,229.62 L175.07,229.35 L175.83,229.49 L176.59,229.64 L177.35,229.87 L178.11,229.82 L178.87,229.89 L179.63,229.94 L180.39,229.97 L181.15,230.09 L181.91,230.22 L182.67,230.33 L183.43,230.33 L184.19,230.18 L184.96,230.20 L185.72,230.21 L186.48,230.21 L187.24,230.40 L188.00,230.56 L188.76,230.70 L189.52,230.61 L190.28,230.73 L191.04,230.70 L191.80,230.74 L192.56,230.76 L193.32,230.68 L194.08,230.85 L194.84,230.75 L195.61,231.09 L196.37,230.94 L197.13,230.89 L197.89,230.93 L198.65,230.97 L199.41,231.08 L200.17,231.12 L200.93,230.98 L201.69,230.96 L202.45,230.89 L203.21,231.12 L203.97,231.20 L204.73,231.15 L205.49,231.14 L206.26,230.96 L207.02,231.29 L207.78,231.51 L208.54,231.70 L209.30,231.62 L210.06,231.37 L210.82,231.42 L211.58,231.13 L212.34,231.08 L213.10,230.84 L213.86,230.80 L214.62,230.69 L215.38,230.79 L216.14,230.77 L216.91,230.85 L217.67,230.98 L218.43,231.26 L219.19,231.45 L219.95,231.31 L220.71,231.44 L221.47,231.26 L222.23,231.40 L222.99,231.00 L223.75,230.98 L224.51,230.96 L225.27,231.03 L226.03,231.31 L226.79,231.17 L227.56,231.09 L228.32,231.02 L229.08,230.92 L229.84,230.97 L230.60,230.70 L231.36,230.95 L232.12,230.83 L232.88,230.75 L233.64,230.55 L234.40,230.71 L235.16,230.66 L235.92,230.47 L236.68,230.27 L237.44,230.21 L238.21,230.40 L238.97,230.39 L239.73,230.43 L240.49,230.30 L241.25,229.94 L242.01,229.89 L242.77,229.94 L243.53,230.14 L244.29,230.28 L245.05,230.13 L245.81,230.09 L246.57,229.98 L247.33,230.02 L248.09,230.18 L248.86,230.06 L249.62,230.06 L250.38,229.69 L251.14,229.58 L251.90,229.48 L252.66,229.81 L253.42,229.60 L254.18,229.36 L254.94,229.09 L255.70,229.26 L256.46,229.35 L257.22,229.42 L257.98,229.16 L258.74,229.11 L259.51,229.18 L260.27,229.44 L261.03,229.72 L261.79,229.42 L262.55,229.20 L263.31,228.62 L264.07,228.40 L264.83,228.53 L265.59,228.64 L266.35,228.73 L267.11,228.48 L267.87,228.55 L268.63,228.52 L269.39,228.51 L270.16,228.23 L270.92,228.28 L271.68,228.32 L272.44,228.50 L273.20,228.49 L273.96,228.50 L274.72,228.43 L275.48,228.28 L276.24,228.08 L277.00,227.83 L277.76,227.71 L278.52,227.64 L279.28,227.89 L280.04,227.90 L280.81,227.78 L281.57,227.75 L282.33,227.90 L283.09,228.10 L283.85,228.01 L284.61,227.86 L285.37,227.80 L286.13,227.57 L286.89,227.62 L287.65,227.47 L288.41,227.52 L289.17,227.43 L289.93,227.22 L290.69,227.10 L291.46,226.85 L292.22,226.95 L292.98,226.80 L293.74,226.73 L294.50,226.64 L295.26,226.87 L296.02,226.78 L296.78,226.60 L297.54,226.30 L298.30,226.29 L299.06,226.29 L299.82,226.21 L300.58,226.29 L301.34,226.23 L302.11,226.14 L302.87,226.02 L303.63,226.05 L304.39,225.78 L305.15,225.55 L305.91,225.38 L306.67,225.58 L307.43,225.89 L308.19,225.94 L308.95,225.82 L309.71,225.26 L310.47,225.24 L311.23,225.20 L311.99,225.03 L312.76,224.61 L313.52,224.37 L314.28,224.36 L315.04,224.36 L315.80,224.33 L316.56,224.28 L317.32,224.06 L318.08,224.06 L318.84,223.85 L319.60,224.06 L320.36,223.90 L321.12,223.60 L321.88,223.33 L322.64,223.05 L323.41,223.42 L324.17,223.27 L324.93,223.31 L325.69,223.11 L326.45,222.85 L327.21,222.41 L327.97,222.11 L328.73,221.86 L329.49,221.98 L330.25,221.75 L331.01,221.72 L331.77,221.33 L332.53,221.39 L333.29,221.31 L334.06,221.14 L334.82,220.84 L335.58,220.62 L336.34,220.68 L337.10,220.58 L337.86,220.34 L338.62,219.98 L339.38,219.83 L340.14,219.73 L340.90,219.56 L341.66,219.42 L342.42,219.05 L343.18,218.88 L343.94,218.55 L344.71,218.73 L345.47,218.69 L346.23,218.57 L346.99,218.11 L347.75,217.80 L348.51,217.39 L349.27,217.05 L350.03,216.69 L350.79,216.72 L351.55,216.30 L352.31,216.02 L353.07,215.40 L353.83,215.34 L354.59,214.98 L355.36,214.62 L356.12,214.15 L356.88,213.65 L357.64,213.36 L358.40,212.72 L359.16,212.62 L359.92,212.20 L360.68,211.84 L361.44,211.12 L362.20,210.56 L362.96,210.32 L363.72,209.54 L364.48,209.08 L365.24,208.14 L366.01,207.55 L366.77,206.47 L367.53,205.59 L368.29,204.86 L369.05,204.16 L369.81,203.39 L370.57,202.48 L371.33,201.30 L372.09,200.20 L372.85,198.90 L373.61,197.80 L374.37,196.48 L375.13,195.14 L375.89,193.65 L376.66,192.17 L377.42,190.51 L378.18,188.84 L378.94,187.10 L379.70,185.24 L380.46,183.28 L381.22,181.23 L381.98,179.11 L382.74,176.90 L383.50,174.59 L384.26,172.20 L385.02,169.72 L385.78,167.16 L386.54,164.52 L387.31,161.81 L388.07,159.03 L388.83,156.18 L389.59,153.28 L390.35,150.33 L391.11,147.35 L391.87,144.33 L392.63,141.29 L393.39,138.25 L394.15,135.20 L394.91,132.16 L395.67,129.14 L396.43,126.15 L397.19,123.20 L397.96,120.29 L398.72,117.44 L399.48,114.65 L400.24,111.92 L401.00,109.27 L401.76,106.70 L402.52,104.20 L403.28,101.80 L404.04,99.48 L404.80,97.25 L405.56,95.11 L406.32,93.06 L407.08,91.10 L407.84,89.23 L408.61,87.45 L409.37,85.76 L410.13,84.15 L410.89,82.63 L411.65,81.18 L412.41,79.82 L413.17,78.53 L413.93,77.32 L414.69,76.18 L415.45,75.10 L416.21,74.09 L416.97,73.14 L417.73,72.25 L418.49,71.41 L419.26,70.63 L420.02,69.90 L420.78,69.22 L421.54,68.58 L422.30,67.99 L423.06,67.43 L423.82,66.91 L424.58,66.43 L425.34,65.99 L426.10,65.57 L426.86,65.19 L427.62,64.83 L428.38,64.50 L429.14,64.19 L429.91,63.90 L430.67,63.64 L431.43,63.39 L432.19,63.17 L432.95,62.96 L433.71,62.77 L434.47,62.59 L435.23,62.43 L435.99,62.28 L436.75,62.14 L437.51,62.01 L438.27,61.90 L439.03,61.79 L439.79,61.69 L440.56,61.60 L441.32,61.52 L442.08,61.44 L442.84,61.37 L443.60,61.31 L444.36,61.25 L445.12,61.19 L445.88,61.15 L446.64,61.10 L447.40,61.06 L448.16,61.02 L448.92,60.99 L449.68,60.96 L450.44,60.93 L451.21,60.91 L451.97,60.88 L452.73,60.86 L453.49,60.84 L454.25,60.83 L455.01,60.81 L455.77,60.80 L456.53,60.78 L457.29,60.77 L458.05,60.76 L458.81,60.75 L459.57,60.74 L460.33,60.74 L461.09,60.73 L461.86,60.72 L462.62,60.72 L463.38,60.71 L464.14,60.71 L464.90,60.70 L465.66,60.70 L466.42,60.70 L467.18,60.69 L467.94,60.69 L468.70,60.69 L469.46,60.69 L470.22,60.68 L470.98,60.68 L471.74,60.68 L472.51,60.68" fill="none" stroke="#000080" stroke-width="2.2" stroke-linejoin="round" stroke-linecap="round"/>
<path d="M165.18,252.63 L165.94,251.89 L166.70,251.50 L167.46,251.41 L168.22,251.50 L168.98,251.59 L169.74,251.43 L170.50,251.34 L171.26,251.28 L172.02,251.07 L172.78,250.94 L173.54,250.97 L174.31,251.37 L175.07,251.39 L175.83,251.50 L176.59,251.35 L177.35,251.48 L178.11,251.31 L178.87,251.55 L179.63,251.56 L180.39,251.93 L181.15,251.91 L181.91,251.93 L182.67,251.72 L183.43,251.93 L184.19,252.00 L184.96,252.07 L185.72,251.92 L186.48,252.10 L187.24,252.21 L188.00,252.29 L188.76,252.16 L189.52,252.11 L190.28,251.98 L191.04,252.03 L191.80,252.24 L192.56,252.36 L193.32,252.24 L194.08,252.25 L194.84,252.26 L195.61,252.58 L196.37,252.58 L197.13,252.60 L197.89,252.45 L198.65,252.31 L199.41,252.30 L200.17,252.31 L200.93,252.57 L201.69,252.55 L202.45,252.62 L203.21,252.49 L203.97,252.59 L204.73,252.73 L205.49,252.60 L206.26,252.69 L207.02,252.76 L207.78,252.89 L208.54,252.88 L209.30,252.74 L210.06,252.59 L210.82,252.55 L211.58,252.54 L212.34,252.46 L213.10,252.59 L213.86,252.57 L214.62,252.68 L215.38,252.38 L216.14,252.19 L216.91,252.36 L217.67,252.45 L218.43,252.68 L219.19,252.65 L219.95,252.77 L220.71,252.90 L221.47,252.80 L222.23,252.64 L222.99,252.58 L223.75,252.52 L224.51,252.64 L225.27,252.61 L226.03,252.93 L226.79,252.74 L227.56,252.54 L228.32,252.29 L229.08,252.41 L229.84,252.59 L230.60,252.48 L231.36,252.41 L232.12,252.20 L232.88,252.20 L233.64,252.31 L234.40,252.49 L235.16,252.43 L235.92,252.42 L236.68,252.20 L237.44,252.11 L238.21,252.03 L238.97,251.95 L239.73,252.00 L240.49,251.78 L241.25,251.87 L242.01,251.83 L242.77,251.80 L243.53,251.50 L244.29,251.38 L245.05,251.33 L245.81,251.60 L246.57,251.60 L247.33,251.67 L248.09,251.50 L248.86,251.45 L249.62,251.24 L250.38,251.12 L251.14,251.08 L251.90,251.13 L252.66,251.01 L253.42,251.06 L254.18,251.00 L254.94,250.95 L255.70,250.83 L256.46,250.69 L257.22,250.69 L257.98,250.42 L258.74,250.33 L259.51,250.54 L260.27,250.69 L261.03,250.72 L261.79,250.41 L262.55,250.32 L263.31,250.10 L264.07,250.02 L264.83,250.13 L265.59,250.33 L266.35,250.59 L267.11,250.24 L267.87,250.14 L268.63,249.89 L269.39,250.17 L270.16,250.15 L270.92,250.04 L271.68,249.86 L272.44,249.81 L273.20,249.86 L273.96,249.56 L274.72,249.52 L275.48,249.55 L276.24,249.75 L277.00,249.68 L277.76,249.49 L278.52,249.40 L279.28,249.43 L280.04,249.38 L280.81,249.26 L281.57,249.23 L282.33,248.94 L283.09,248.75 L283.85,248.73 L284.61,248.90 L285.37,248.91 L286.13,248.52 L286.89,248.23 L287.65,248.45 L288.41,248.63 L289.17,248.80 L289.93,248.48 L290.69,248.40 L291.46,248.23 L292.22,248.16 L292.98,247.90 L293.74,248.00 L294.50,247.94 L295.26,247.93 L296.02,247.76 L296.78,247.56 L297.54,247.51 L298.30,247.23 L299.06,247.34 L299.82,247.04 L300.58,246.93 L301.34,246.86 L302.11,246.91 L302.87,246.95 L303.63,246.87 L304.39,246.72 L305.15,246.59 L305.91,246.48 L306.67,246.45 L307.43,246.31 L308.19,246.13 L308.95,246.11 L309.71,245.92 L310.47,245.90 L311.23,245.67 L311.99,245.61 L312.76,245.31 L313.52,245.42 L314.28,245.44 L315.04,245.42 L315.80,245.12 L316.56,244.90 L317.32,244.70 L318.08,244.53 L318.84,244.43 L319.60,244.25 L320.36,243.99 L321.12,244.07 L321.88,243.81 L322.64,243.85 L323.41,243.42 L324.17,243.66 L324.93,243.50 L325.69,243.54 L326.45,243.10 L327.21,242.78 L327.97,242.47 L328.73,242.42 L329.49,242.29 L330.25,242.19 L331.01,242.04 L331.77,241.96 L332.53,241.57 L333.29,241.29 L334.06,241.13 L334.82,240.96 L335.58,240.68 L336.34,240.18 L337.10,240.04 L337.86,239.81 L338.62,239.50 L339.38,239.22 L340.14,239.05 L340.90,238.95 L341.66,238.70 L342.42,238.39 L343.18,238.22 L343.94,237.97 L344.71,237.59 L345.47,237.28 L346.23,237.01 L346.99,236.82 L347.75,236.49 L348.51,236.04 L349.27,235.59 L350.03,235.07 L350.79,234.89 L351.55,234.66 L352.31,234.67 L353.07,234.14 L353.83,233.66 L354.59,233.11 L355.36,232.79 L356.12,232.47 L356.88,232.07 L357.64,231.39 L358.40,230.55 L359.16,229.94 L359.92,229.23 L360.68,228.81 L361.44,228.16 L362.20,227.57 L362.96,226.74 L363.72,225.77 L364.48,225.03 L365.24,224.07 L366.01,223.22 L366.77,222.17 L367.53,221.26 L368.29,220.24 L369.05,219.31 L369.81,218.28 L370.57,216.96 L371.33,215.46 L372.09,214.05 L372.85,212.58 L373.61,210.94 L374.37,209.30 L375.13,207.52 L375.89,205.75 L376.66,203.76 L377.42,201.82 L378.18,199.73 L378.94,197.57 L379.70,195.25 L380.46,192.87 L381.22,190.39 L381.98,187.82 L382.74,185.15 L383.50,182.39 L384.26,179.54 L385.02,176.61 L385.78,173.60 L386.54,170.52 L387.31,167.38 L388.07,164.17 L388.83,160.92 L389.59,157.62 L390.35,154.30 L391.11,150.95 L391.87,147.60 L392.63,144.24 L393.39,140.89 L394.15,137.57 L394.91,134.27 L395.67,131.01 L396.43,127.80 L397.19,124.65 L397.96,121.57 L398.72,118.55 L399.48,115.62 L400.24,112.76 L401.00,110.00 L401.76,107.32 L402.52,104.74 L403.28,102.26 L404.04,99.87 L404.80,97.58 L405.56,95.39 L406.32,93.30 L407.08,91.30 L407.84,89.40 L408.61,87.59 L409.37,85.88 L410.13,84.25 L410.89,82.71 L411.65,81.25 L412.41,79.88 L413.17,78.58 L413.93,77.36 L414.69,76.21 L415.45,75.13 L416.21,74.11 L416.97,73.16 L417.73,72.26 L418.49,71.43 L419.26,70.64 L420.02,69.91 L420.78,69.23 L421.54,68.59 L422.30,67.99 L423.06,67.43 L423.82,66.92 L424.58,66.44 L425.34,65.99 L426.10,65.57 L426.86,65.19 L427.62,64.83 L428.38,64.50 L429.14,64.19 L429.91,63.90 L430.67,63.64 L431.43,63.40 L432.19,63.17 L432.95,62.96 L433.71,62.77 L434.47,62.59 L435.23,62.43 L435.99,62.28 L436.75,62.14 L437.51,62.01 L438.27,61.90 L439.03,61.79 L439.79,61.69 L440.56,61.60 L441.32,61.52 L442.08,61.44 L442.84,61.37 L443.60,61.31 L444.36,61.25 L445.12,61.19 L445.88,61.15 L446.64,61.10 L447.40,61.06 L448.16,61.02 L448.92,60.99 L449.68,60.96 L450.44,60.93 L451.21,60.91 L451.97,60.88 L452.73,60.86 L453.49,60.84 L454.25,60.83 L455.01,60.81 L455.77,60.80 L456.53,60.78 L457.29,60.77 L458.05,60.76 L458.81,60.75 L459.57,60.74 L460.33,60.74 L461.09,60.73 L461.86,60.72 L462.62,60.72 L463.38,60.71 L464.14,60.71 L464.90,60.70 L465.66,60.70 L466.42,60.70 L467.18,60.69 L467.94,60.69 L468.70,60.69 L469.46,60.69 L470.22,60.68 L470.98,60.68 L471.74,60.68 L472.51,60.68" fill="none" stroke="#FFFF00" stroke-width="2.2" stroke-linejoin="round" stroke-linecap="round"/>
<path d="M165.18,273.59 L165.94,272.89 L166.70,272.79 L167.46,272.71 L168.22,272.80 L168.98,272.76 L169.74,272.89 L170.50,272.69 L171.26,272.55 L172.02,272.55 L172.78,272.71 L173.54,273.01 L174.31,273.17 L175.07,273.23 L175.83,273.08 L176.59,272.91 L177.35,272.84 L178.11,273.01 L178.87,273.47 L179.63,273.48 L180.39,273.34 L181.15,272.93 L181.91,272.99 L182.67,273.07 L183.43,272.90 L184.19,273.02 L184.96,273.01 L185.72,273.29 L186.48,273.29 L187.24,273.55 L188.00,273.74 L188.76,274.01 L189.52,273.96 L190.28,273.99 L191.04,274.04 L191.80,274.25 L192.56,274.40 L193.32,274.08 L194.08,274.05 L194.84,273.92 L195.61,274.30 L196.37,274.43 L197.13,274.34 L197.89,274.25 L198.65,274.12 L199.41,274.04 L200.17,273.77 L200.93,273.74 L201.69,273.93 L202.45,274.18 L203.21,274.32 L203.97,274.15 L204.73,274.34 L205.49,274.33 L206.26,274.85 L207.02,274.86 L207.78,274.81 L208.54,274.52 L209.30,274.33 L210.06,274.43 L210.82,274.58 L211.58,274.70 L212.34,274.71 L213.10,274.48 L213.86,274.23 L214.62,274.13 L215.38,274.33 L216.14,274.62 L216.91,274.63 L217.67,274.59 L218.43,274.69 L219.19,274.54 L219.95,274.50 L220.71,274.29 L221.47,274.56 L222.23,274.65 L222.99,274.47 L223.75,274.46 L224.51,274.31 L225.27,274.32 L226.03,273.94 L226.79,273.85 L227.56,273.90 L228.32,274.15 L229.08,274.09 L229.84,273.92 L230.60,273.88 L231.36,273.88 L232.12,273.98 L232.88,274.09 L233.64,274.25 L234.40,274.09 L235.16,273.66 L235.92,273.40 L236.68,273.48 L237.44,273.70 L238.21,273.67 L238.97,273.56 L239.73,273.62 L240.49,273.55 L241.25,273.63 L242.01,273.29 L242.77,273.25 L243.53,273.01 L244.29,272.90 L245.05,272.82 L245.81,272.99 L246.57,273.19 L247.33,273.09 L248.09,272.84 L248.86,272.85 L249.62,273.17 L250.38,273.05 L251.14,272.51 L251.90,272.09 L252.66,272.17 L253.42,272.35 L254.18,272.73 L254.94,272.76 L255.70,272.60 L256.46,272.08 L257.22,272.16 L257.98,272.07 L258.74,272.04 L259.51,271.59 L260.27,271.69 L261.03,271.69 L261.79,271.88 L262.55,271.74 L263.31,271.56 L264.07,271.47 L264.83,271.40 L265.59,271.51 L266.35,271.19 L267.11,271.04 L267.87,271.20 L268.63,271.20 L269.39,271.13 L270.16,270.83 L270.92,270.85 L271.68,270.93 L272.44,270.93 L273.20,270.85 L273.96,270.56 L274.72,270.29 L275.48,270.01 L276.24,270.02 L277.00,269.86 L277.76,269.96 L278.52,269.92 L279.28,269.75 L280.04,269.51 L280.81,269.50 L281.57,269.77 L282.33,270.00 L283.09,269.93 L283.85,269.72 L284.61,269.76 L285.37,269.68 L286.13,269.62 L286.89,269.27 L287.65,269.29 L288.41,268.96 L289.17,268.81 L289.93,268.83 L290.69,269.12 L291.46,269.05 L292.22,268.72 L292.98,268.53 L293.74,268.55 L294.50,268.55 L295.26,268.53 L296.02,268.57 L296.78,268.37 L297.54,268.57 L298.30,268.44 L299.06,268.26 L299.82,267.91 L300.58,267.86 L301.34,267.68 L302.11,267.35 L302.87,267.11 L303.63,267.31 L304.39,267.36 L305.15,267.28 L305.91,267.12 L306.67,267.07 L307.43,266.84 L308.19,266.76 L308.95,266.77 L309.71,266.88 L310.47,266.68 L311.23,266.45 L311.99,266.47 L312.76,266.15 L313.52,265.82 L314.28,265.43 L315.04,265.54 L315.80,265.40 L316.56,265.02 L317.32,264.88 L318.08,264.74 L318.84,264.83 L319.60,264.55 L320.36,264.58 L321.12,264.57 L321.88,264.43 L322.64,264.12 L323.41,263.62 L324.17,263.53 L324.93,263.16 L325.69,263.04 L326.45,262.57 L327.21,262.57 L327.97,262.18 L328.73,262.16 L329.49,261.88 L330.25,261.71 L331.01,261.69 L331.77,261.60 L332.53,261.24 L333.29,260.95 L334.06,260.61 L334.82,260.51 L335.58,259.86 L336.34,259.58 L337.10,259.34 L337.86,259.37 L338.62,259.06 L339.38,258.64 L340.14,258.14 L340.90,257.78 L341.66,257.52 L342.42,257.21 L343.18,256.85 L343.94,256.59 L344.71,256.38 L345.47,255.95 L346.23,255.68 L346.99,255.05 L347.75,254.48 L348.51,253.75 L349.27,253.18 L350.03,253.17 L350.79,252.91 L351.55,252.87 L352.31,252.37 L353.07,252.14 L353.83,251.68 L354.59,250.95 L355.36,250.09 L356.12,249.20 L356.88,248.54 L357.64,247.88 L358.40,247.45 L359.16,246.88 L359.92,246.13 L360.68,245.07 L361.44,244.26 L362.20,243.53 L362.96,242.81 L363.72,241.58 L364.48,240.41 L365.24,239.30 L366.01,238.45 L366.77,237.25 L367.53,236.13 L368.29,234.71 L369.05,233.39 L369.81,231.78 L370.57,230.17 L371.33,228.43 L372.09,226.43 L372.85,224.63 L373.61,222.73 L374.37,220.96 L375.13,218.95 L375.89,216.72 L376.66,214.30 L377.42,211.89 L378.18,209.42 L378.94,206.84 L379.70,204.11 L380.46,201.32 L381.22,198.40 L381.98,195.38 L382.74,192.28 L383.50,189.08 L384.26,185.81 L385.02,182.45 L385.78,179.03 L386.54,175.54 L387.31,172.00 L388.07,168.42 L388.83,164.81 L389.59,161.17 L390.35,157.51 L391.11,153.86 L391.87,150.21 L392.63,146.58 L393.39,142.99 L394.15,139.43 L394.91,135.92 L395.67,132.47 L396.43,129.09 L397.19,125.78 L397.96,122.55 L398.72,119.41 L399.48,116.36 L400.24,113.40 L401.00,110.55 L401.76,107.80 L402.52,105.15 L403.28,102.60 L404.04,100.17 L404.80,97.83 L405.56,95.60 L406.32,93.48 L407.08,91.45 L407.84,89.53 L408.61,87.70 L409.37,85.97 L410.13,84.32 L410.89,82.77 L411.65,81.30 L412.41,79.92 L413.17,78.62 L413.93,77.39 L414.69,76.23 L415.45,75.15 L416.21,74.13 L416.97,73.17 L417.73,72.27 L418.49,71.43 L419.26,70.65 L420.02,69.92 L420.78,69.23 L421.54,68.59 L422.30,67.99 L423.06,67.44 L423.82,66.92 L424.58,66.44 L425.34,65.99 L426.10,65.57 L426.86,65.19 L427.62,64.83 L428.38,64.50 L429.14,64.19 L429.91,63.90 L430.67,63.64 L431.43,63.40 L432.19,63.17 L432.95,62.96 L433.71,62.77 L434.47,62.59 L435.23,62.43 L435.99,62.28 L436.75,62.14 L437.51,62.01 L438.27,61.90 L439.03,61.79 L439.79,61.69 L440.56,61.60 L441.32,61.52 L442.08,61.44 L442.84,61.37 L443.60,61.31 L444.36,61.25 L445.12,61.19 L445.88,61.15 L446.64,61.10 L447.40,61.06 L448.16,61.02 L448.92,60.99 L449.68,60.96 L450.44,60.93 L451.21,60.91 L451.97,60.88 L452.73,60.86 L453.49,60.84 L454.25,60.83 L455.01,60.81 L455.77,60.80 L456.53,60.78 L457.29,60.77 L458.05,60.76 L458.81,60.75 L459.57,60.74 L460.33,60.74 L461.09,60.73 L461.86,60.72 L462.62,60.72 L463.38,60.71 L464.14,60.71 L464.90,60.70 L465.66,60.70 L466.42,60.70 L467.18,60.69 L467.94,60.69 L468.70,60.69 L469.46,60.69 L470.22,60.68 L470.98,60.68 L471.74,60.68 L472.51,60.68" fill="none" stroke="#800080" stroke-width="2.2" stroke-linejoin="round" stroke-linecap="round"/>
<path d="M165.18,294.53 L165.94,293.65 L166.70,293.41 L167.46,293.13 L168.22,293.12 L168.98,293.07 L169.74,293.17 L170.50,293.25 L171.26,293.39 L172.02,293.50 L172.78,293.77 L173.54,294.04 L174.31,293.88 L175.07,293.74 L175.83,293.76 L176.59,293.98 L177.35,294.12 L178.11,294.28 L178.87,294.50 L179.63,294.60 L180.39,294.19 L181.15,294.02 L181.91,293.92 L182.67,294.15 L183.43,294.22 L184.19,294.57 L184.96,294.59 L185.72,294.68 L186.48,294.74 L187.24,294.84 L188.00,294.79 L188.76,294.45 L189.52,294.36 L190.28,294.67 L191.04,294.96 L191.80,295.24 L192.56,295.05 L193.32,295.18 L194.08,295.28 L194.84,295.67 L195.61,295.58 L196.37,295.43 L197.13,295.34 L197.89,295.49 L198.65,295.59 L199.41,295.39 L200.17,295.48 L200.93,295.49 L201.69,295.65 L202.45,295.47 L203.21,295.33 L203.97,295.28 L204.73,295.31 L205.49,295.30 L206.26,295.28 L207.02,295.29 L207.78,295.45 L208.54,295.74 L209.30,295.77 L210.06,295.91 L210.82,295.91 L211.58,295.96 L212.34,296.08 L213.10,296.05 L213.86,296.08 L214.62,295.83 L215.38,295.76 L216.14,295.64 L216.91,295.49 L217.67,295.34 L218.43,295.51 L219.19,295.91 L219.95,296.10 L220.71,296.05 L221.47,296.06 L222.23,296.13 L222.99,296.21 L223.75,296.02 L224.51,295.61 L225.27,295.17 L226.03,295.19 L226.79,295.38 L227.56,295.72 L228.32,295.76 L229.08,295.68 L229.84,295.47 L230.60,295.31 L231.36,295.18 L232.12,295.18 L232.88,294.93 L233.64,295.02 L234.40,294.82 L235.16,294.93 L235.92,294.80 L236.68,294.78 L237.44,294.86 L238.21,294.91 L238.97,294.93 L239.73,294.75 L240.49,294.56 L241.25,294.59 L242.01,294.66 L242.77,294.64 L243.53,294.44 L244.29,294.31 L245.05,294.08 L245.81,293.97 L246.57,293.70 L247.33,293.68 L248.09,293.80 L248.86,293.57 L249.62,293.68 L250.38,293.45 L251.14,293.54 L251.90,293.34 L252.66,293.29 L253.42,293.39 L254.18,293.40 L254.94,293.34 L255.70,293.01 L256.46,292.96 L257.22,292.80 L257.98,292.83 L258.74,292.66 L259.51,292.72 L260.27,292.71 L261.03,292.85 L261.79,292.69 L262.55,292.55 L263.31,292.32 L264.07,292.19 L264.83,292.11 L265.59,292.05 L266.35,291.93 L267.11,291.95 L267.87,291.49 L268.63,291.64 L269.39,291.59 L270.16,291.88 L270.92,291.64 L271.68,291.33 L272.44,291.16 L273.20,291.15 L273.96,290.99 L274.72,290.79 L275.48,290.70 L276.24,290.87 L277.00,291.10 L277.76,290.98 L278.52,290.68 L279.28,290.56 L280.04,290.66 L280.81,290.77 L281.57,290.84 L282.33,290.41 L283.09,290.53 L283.85,290.24 L284.61,290.35 L285.37,289.93 L286.13,289.71 L286.89,289.84 L287.65,290.10 L288.41,290.03 L289.17,289.96 L289.93,289.70 L290.69,289.74 L291.46,289.29 L292.22,289.01 L292.98,289.12 L293.74,289.07 L294.50,289.03 L295.26,288.72 L296.02,288.74 L296.78,288.86 L297.54,288.70 L298.30,288.47 L299.06,288.05 L299.82,287.72 L300.58,287.69 L301.34,287.83 L302.11,287.77 L302.87,287.95 L303.63,287.89 L304.39,287.81 L305.15,287.08 L305.91,286.87 L306.67,286.80 L307.43,287.07 L308.19,286.85 L308.95,286.73 L309.71,286.54 L310.47,286.33 L311.23,286.19 L311.99,285.89 L312.76,285.80 L313.52,285.77 L314.28,285.65 L315.04,285.35 L315.80,285.13 L316.56,284.81 L317.32,284.68 L318.08,284.45 L318.84,284.42 L319.60,284.34 L320.36,284.21 L321.12,283.90 L321.88,283.54 L322.64,283.28 L323.41,283.20 L324.17,283.11 L324.93,282.75 L325.69,282.32 L326.45,282.13 L327.21,281.93 L327.97,281.86 L328.73,281.45 L329.49,281.04 L330.25,280.86 L331.01,280.90 L331.77,280.80 L332.53,280.59 L333.29,279.83 L334.06,279.58 L334.82,279.09 L335.58,278.94 L336.34,278.49 L337.10,278.16 L337.86,277.83 L338.62,277.38 L339.38,277.00 L340.14,276.39 L340.90,276.08 L341.66,275.93 L342.42,275.64 L343.18,275.48 L343.94,274.73 L344.71,274.13 L345.47,273.35 L346.23,273.07 L346.99,272.99 L347.75,272.64 L348.51,271.85 L349.27,271.34 L350.03,270.71 L350.79,270.34 L351.55,269.73 L352.31,269.33 L353.07,268.57 L353.83,268.12 L354.59,267.59 L355.36,267.00 L356.12,265.98 L356.88,265.24 L357.64,264.67 L358.40,264.09 L359.16,262.98 L359.92,262.02 L360.68,260.73 L361.44,259.68 L362.20,258.49 L362.96,257.50 L363.72,256.33 L364.48,255.00 L365.24,253.69 L366.01,252.33 L366.77,250.87 L367.53,249.34 L368.29,247.65 L369.05,246.04 L369.81,244.32 L370.57,242.51 L371.33,240.38 L372.09,238.15 L372.85,236.12 L373.61,233.93 L374.37,231.67 L375.13,229.11 L375.89,226.54 L376.66,223.83 L377.42,221.02 L378.18,218.09 L378.94,215.05 L379.70,211.92 L380.46,208.69 L381.22,205.35 L381.98,201.91 L382.74,198.40 L383.50,194.80 L384.26,191.12 L385.02,187.38 L385.78,183.58 L386.54,179.73 L387.31,175.85 L388.07,171.93 L388.83,168.00 L389.59,164.06 L390.35,160.12 L391.11,156.21 L391.87,152.32 L392.63,148.46 L393.39,144.65 L394.15,140.91 L394.91,137.22 L395.67,133.62 L396.43,130.09 L397.19,126.65 L397.96,123.31 L398.72,120.07 L399.48,116.93 L400.24,113.90 L401.00,110.97 L401.76,108.16 L402.52,105.46 L403.28,102.87 L404.04,100.39 L404.80,98.02 L405.56,95.76 L406.32,93.61 L407.08,91.57 L407.84,89.62 L408.61,87.78 L409.37,86.03 L410.13,84.38 L410.89,82.82 L411.65,81.34 L412.41,79.95 L413.17,78.64 L413.93,77.41 L414.69,76.25 L415.45,75.16 L416.21,74.14 L416.97,73.18 L417.73,72.28 L418.49,71.44 L419.26,70.65 L420.02,69.92 L420.78,69.23 L421.54,68.59 L422.30,68.00 L423.06,67.44 L423.82,66.92 L424.58,66.44 L425.34,65.99 L426.10,65.57 L426.86,65.19 L427.62,64.83 L428.38,64.50 L429.14,64.19 L429.91,63.90 L430.67,63.64 L431.43,63.40 L432.19,63.17 L432.95,62.96 L433.71,62.77 L434.47,62.59 L435.23,62.43 L435.99,62.28 L436.75,62.14 L437.51,62.01 L438.27,61.90 L439.03,61.79 L439.79,61.69 L440.56,61.60 L441.32,61.52 L442.08,61.44 L442.84,61.37 L443.60,61.31 L444.36,61.25 L445.12,61.19 L445.88,61.15 L446.64,61.10 L447.40,61.06 L448.16,61.02 L448.92,60.99 L449.68,60.96 L450.44,60.93 L451.21,60.91 L451.97,60.88 L452.73,60.86 L453.49,60.84 L454.25,60.83 L455.01,60.81 L455.77,60.80 L456.53,60.78 L457.29,60.77 L458.05,60.76 L458.81,60.75 L459.57,60.74 L460.33,60.74 L461.09,60.73 L461.86,60.72 L462.62,60.72 L463.38,60.71 L464.14,60.71 L464.90,60.70 L465.66,60.70 L466.42,60.70 L467.18,60.69 L467.94,60.69 L468.70,60.69 L469.46,60.69 L470.22,60.68 L470.98,60.68 L471.74,60.68 L472.51,60.68" fill="none" stroke="#800000" stroke-width="2.2" stroke-linejoin="round" stroke-linecap="round"/>
<path d="M165.18,314.48 L165.94,313.61 L166.70,313.36 L167.46,313.34 L168.22,313.27 L168.98,313.17 L169.74,313.17 L170.50,313.30 L171.26,313.41 L172.02,313.53 L172.78,313.87 L173.54,313.82 L174.31,313.91 L175.07,313.86 L175.83,314.26 L176.59,314.19 L177.35,314.16 L178.11,314.05 L178.87,314.10 L179.63,314.49 L180.39,314.49 L181.15,314.85 L181.91,314.39 L182.67,314.72 L183.43,314.74 L184.19,315.15 L184.96,314.87 L185.72,314.72 L186.48,314.66 L187.24,314.83 L188.00,314.75 L188.76,314.92 L189.52,314.91 L190.28,315.00 L191.04,315.10 L191.80,315.26 L192.56,315.37 L193.32,315.25 L194.08,315.34 L194.84,315.49 L195.61,315.38 L196.37,315.31 L197.13,315.27 L197.89,315.49 L198.65,315.56 L199.41,315.51 L200.17,315.46 L200.93,315.30 L201.69,315.50 L202.45,315.62 L203.21,315.74 L203.97,315.70 L204.73,315.77 L205.49,315.86 L206.26,315.79 L207.02,315.88 L207.78,315.89 L208.54,316.07 L209.30,316.02 L210.06,316.11 L210.82,316.16 L211.58,316.03 L212.34,315.95 L213.10,315.95 L213.86,315.86 L214.62,315.96 L215.38,315.77 L216.14,315.90 L216.91,315.89 L217.67,316.03 L218.43,316.09 L219.19,315.80 L219.95,315.65 L220.71,315.62 L221.47,315.85 L222.23,316.09 L222.99,316.05 L223.75,316.04 L224.51,315.86 L225.27,315.83 L226.03,315.61 L226.79,315.46 L227.56,315.39 L228.32,315.33 L229.08,315.41 L229.84,315.27 L230.60,315.19 L231.36,314.96 L232.12,314.88 L232.88,314.98 L233.64,315.24 L234.40,315.26 L235.16,315.01 L235.92,314.87 L236.68,314.73 L237.44,314.77 L238.21,314.65 L238.97,314.70 L239.73,314.79 L240.49,314.88 L241.25,314.89 L242.01,314.80 L242.77,314.56 L243.53,314.46 L244.29,314.53 L245.05,314.54 L245.81,314.41 L246.57,314.31 L247.33,314.19 L248.09,314.30 L248.86,314.19 L249.62,313.97 L250.38,313.64 L251.14,313.40 L251.90,313.49 L252.66,313.38 L253.42,313.13 L254.18,313.00 L254.94,312.97 L255.70,312.99 L256.46,312.94 L257.22,312.88 L257.98,312.85 L258.74,312.67 L259.51,312.68 L260.27,312.59 L261.03,312.62 L261.79,312.46 L262.55,312.24 L263.31,312.05 L264.07,312.09 L264.83,312.04 L265.59,312.08 L266.35,312.02 L267.11,312.02 L267.87,311.76 L268.63,311.48 L269.39,311.32 L270.16,311.17 L270.92,311.06 L271.68,311.07 L272.44,311.04 L273.20,311.06 L273.96,310.90 L274.72,310.83 L275.48,310.72 L276.24,310.82 L277.00,310.81 L277.76,310.75 L278.52,310.52 L279.28,310.46 L280.04,310.45 L280.81,310.51 L281.57,310.31 L282.33,310.02 L283.09,309.73 L283.85,309.71 L284.61,309.49 L285.37,309.36 L286.13,309.26 L286.89,309.27 L287.65,309.25 L288.41,309.07 L289.17,309.02 L289.93,308.86 L290.69,308.81 L291.46,308.78 L292.22,308.67 L292.98,308.45 L293.74,308.38 L294.50,308.37 L295.26,308.48 L296.02,308.18 L296.78,308.02 L297.54,307.70 L298.30,307.74 L299.06,307.51 L299.82,307.53 L300.58,307.36 L301.34,307.26 L302.11,307.10 L302.87,306.98 L303.63,306.80 L304.39,306.62 L305.15,306.29 L305.91,305.97 L306.67,305.87 L307.43,305.87 L308.19,306.12 L308.95,306.02 L309.71,305.76 L310.47,305.40 L311.23,305.08 L311.99,304.92 L312.76,304.86 L313.52,304.87 L314.28,304.62 L315.04,304.31 L315.80,303.83 L316.56,303.74 L317.32,303.49 L318.08,303.44 L318.84,303.22 L319.60,303.09 L320.36,302.78 L321.12,302.41 L321.88,302.09 L322.64,302.17 L323.41,302.07 L324.17,301.88 L324.93,301.25 L325.69,300.95 L326.45,300.74 L327.21,300.61 L327.97,300.36 L328.73,300.05 L329.49,299.52 L330.25,299.10 L331.01,298.69 L331.77,298.39 L332.53,297.88 L333.29,297.55 L334.06,297.28 L334.82,297.14 L335.58,296.85 L336.34,296.52 L337.10,296.17 L337.86,295.58 L338.62,295.05 L339.38,294.43 L340.14,294.10 L340.90,293.59 L341.66,293.31 L342.42,292.77 L343.18,292.25 L343.94,291.52 L344.71,290.88 L345.47,290.28 L346.23,289.76 L346.99,289.34 L347.75,289.01 L348.51,288.62 L349.27,287.99 L350.03,287.44 L350.79,286.81 L351.55,286.30 L352.31,285.73 L353.07,284.72 L353.83,283.79 L354.59,283.06 L355.36,282.44 L356.12,281.73 L356.88,280.83 L357.64,279.95 L358.40,278.87 L359.16,277.55 L359.92,276.31 L360.68,275.26 L361.44,274.10 L362.20,272.86 L362.96,271.36 L363.72,269.90 L364.48,268.46 L365.24,266.82 L366.01,265.33 L366.77,263.75 L367.53,261.88 L368.29,259.82 L369.05,257.61 L369.81,255.63 L370.57,253.50 L371.33,251.30 L372.09,248.89 L372.85,246.37 L373.61,243.71 L374.37,240.98 L375.13,238.06 L375.89,235.06 L376.66,231.94 L377.42,228.79 L378.18,225.51 L378.94,222.11 L379.70,218.58 L380.46,214.98 L381.22,211.25 L381.98,207.45 L382.74,203.56 L383.50,199.59 L384.26,195.56 L385.02,191.48 L385.78,187.35 L386.54,183.18 L387.31,178.99 L388.07,174.79 L388.83,170.59 L389.59,166.39 L390.35,162.22 L391.11,158.09 L391.87,153.99 L392.63,149.95 L393.39,145.97 L394.15,142.07 L394.91,138.25 L395.67,134.51 L396.43,130.87 L397.19,127.34 L397.96,123.90 L398.72,120.58 L399.48,117.37 L400.24,114.28 L401.00,111.30 L401.76,108.44 L402.52,105.70 L403.28,103.07 L404.04,100.56 L404.80,98.17 L405.56,95.89 L406.32,93.72 L407.08,91.65 L407.84,89.70 L408.61,87.84 L409.37,86.08 L410.13,84.42 L410.89,82.85 L411.65,81.37 L412.41,79.98 L413.17,78.66 L413.93,77.43 L414.69,76.26 L415.45,75.17 L416.21,74.15 L416.97,73.19 L417.73,72.29 L418.49,71.45 L419.26,70.66 L420.02,69.92 L420.78,69.24 L421.54,68.60 L422.30,68.00 L423.06,67.44 L423.82,66.92 L424.58,66.44 L425.34,65.99 L426.10,65.58 L426.86,65.19 L427.62,64.83 L428.38,64.50 L429.14,64.19 L429.91,63.90 L430.67,63.64 L431.43,63.40 L432.19,63.17 L432.95,62.96 L433.71,62.77 L434.47,62.59 L435.23,62.43 L435.99,62.28 L436.75,62.14 L437.51,62.01 L438.27,61.90 L439.03,61.79 L439.79,61.69 L440.56,61.60 L441.32,61.52 L442.08,61.44 L442.84,61.37 L443.60,61.31 L444.36,61.25 L445.12,61.19 L445.88,61.15 L446.64,61.10 L447.40,61.06 L448.16,61.02 L448.92,60.99 L449.68,60.96 L450.44,60.93 L451.21,60.91 L451.97,60.88 L452.73,60.86 L453.49,60.84 L454.25,60.83 L455.01,60.81 L455.77,60.80 L456.53,60.78 L457.29,60.77 L458.05,60.76 L458.81,60.75 L459.57,60.74 L460.33,60.74 L461.09,60.73 L461.86,60.72 L462.62,60.72 L463.38,60.71 L464.14,60.71 L464.90,60.70 L465.66,60.70 L466.42,60.70 L467.18,60.69 L467.94,60.69 L468.70,60.69 L469.46,60.69 L470.22,60.68 L470.98,60.68 L471.74,60.68 L472.51,60.68" fill="none" stroke="#808000" stroke-width="2.2" stroke-linejoin="round" stroke-linecap="round"/>
<rect x="71.0" y="23.0" width="426.0" height="323.0" fill="none" stroke="#000" stroke-width="1.55"/>
<line x1="71.00" y1="346.0" x2="71.00" y2="353.0" stroke="#000" stroke-width="1.4"/>
<text transform="translate(71.00,368.90) scale(1,1.21)" font-size="13.8" text-anchor="middle">-0.2</text>
<line x1="101.43" y1="346.0" x2="101.43" y2="350.0" stroke="#000" stroke-width="1.4"/>
<line x1="131.86" y1="346.0" x2="131.86" y2="353.0" stroke="#000" stroke-width="1.4"/>
<text transform="translate(131.86,368.90) scale(1,1.21)" font-size="13.8" text-anchor="middle">0.0</text>
<line x1="162.29" y1="346.0" x2="162.29" y2="350.0" stroke="#000" stroke-width="1.4"/>
<line x1="192.71" y1="346.0" x2="192.71" y2="353.0" stroke="#000" stroke-width="1.4"/>
<text transform="translate(192.71,368.90) scale(1,1.21)" font-size="13.8" text-anchor="middle">0.2</text>
<line x1="223.14" y1="346.0" x2="223.14" y2="350.0" stroke="#000" stroke-width="1.4"/>
<line x1="253.57" y1="346.0" x2="253.57" y2="353.0" stroke="#000" stroke-width="1.4"/>
<text transform="translate(253.57,368.90) scale(1,1.21)" font-size="13.8" text-anchor="middle">0.4</text>
<line x1="284.00" y1="346.0" x2="284.00" y2="350.0" stroke="#000" stroke-width="1.4"/>
<line x1="314.43" y1="346.0" x2="314.43" y2="353.0" stroke="#000" stroke-width="1.4"/>
<text transform="translate(314.43,368.90) scale(1,1.21)" font-size="13.8" text-anchor="middle">0.6</text>
<line x1="344.86" y1="346.0" x2="344.86" y2="350.0" stroke="#000" stroke-width="1.4"/>
<line x1="375.29" y1="346.0" x2="375.29" y2="353.0" stroke="#000" stroke-width="1.4"/>
<text transform="translate(375.29,368.90) scale(1,1.21)" font-size="13.8" text-anchor="middle">0.8</text>
<line x1="405.71" y1="346.0" x2="405.71" y2="350.0" stroke="#000" stroke-width="1.4"/>
<line x1="436.14" y1="346.0" x2="436.14" y2="353.0" stroke="#000" stroke-width="1.4"/>
<text transform="translate(436.14,368.90) scale(1,1.21)" font-size="13.8" text-anchor="middle">1.0</text>
<line x1="466.57" y1="346.0" x2="466.57" y2="350.0" stroke="#000" stroke-width="1.4"/>
<line x1="497.00" y1="346.0" x2="497.00" y2="353.0" stroke="#000" stroke-width="1.4"/>
<text transform="translate(497.00,368.90) scale(1,1.21)" font-size="13.8" text-anchor="middle">1.2</text>
<line x1="64.0" y1="346.00" x2="71.0" y2="346.00" stroke="#000" stroke-width="1.4"/>
<text transform="translate(60.20,350.85) scale(1,1.22)" font-size="13.8" text-anchor="end">-7</text>
<line x1="67.0" y1="325.81" x2="71.0" y2="325.81" stroke="#000" stroke-width="1.4"/>
<line x1="64.0" y1="305.62" x2="71.0" y2="305.62" stroke="#000" stroke-width="1.4"/>
<text transform="translate(60.20,310.48) scale(1,1.22)" font-size="13.8" text-anchor="end">-6</text>
<line x1="67.0" y1="285.44" x2="71.0" y2="285.44" stroke="#000" stroke-width="1.4"/>
<line x1="64.0" y1="265.25" x2="71.0" y2="265.25" stroke="#000" stroke-width="1.4"/>
<text transform="translate(60.20,270.10) scale(1,1.22)" font-size="13.8" text-anchor="end">-5</text>
<line x1="67.0" y1="245.06" x2="71.0" y2="245.06" stroke="#000" stroke-width="1.4"/>
<line x1="64.0" y1="224.88" x2="71.0" y2="224.88" stroke="#000" stroke-width="1.4"/>
<text transform="translate(60.20,229.72) scale(1,1.22)" font-size="13.8" text-anchor="end">-4</text>
<line x1="67.0" y1="204.69" x2="71.0" y2="204.69" stroke="#000" stroke-width="1.4"/>
<line x1="64.0" y1="184.50" x2="71.0" y2="184.50" stroke="#000" stroke-width="1.4"/>
<text transform="translate(60.20,189.35) scale(1,1.22)" font-size="13.8" text-anchor="end">-3</text>
<line x1="67.0" y1="164.31" x2="71.0" y2="164.31" stroke="#000" stroke-width="1.4"/>
<line x1="64.0" y1="144.12" x2="71.0" y2="144.12" stroke="#000" stroke-width="1.4"/>
<text transform="translate(60.20,148.97) scale(1,1.22)" font-size="13.8" text-anchor="end">-2</text>
<line x1="67.0" y1="123.94" x2="71.0" y2="123.94" stroke="#000" stroke-width="1.4"/>
<line x1="64.0" y1="103.75" x2="71.0" y2="103.75" stroke="#000" stroke-width="1.4"/>
<text transform="translate(60.20,108.60) scale(1,1.22)" font-size="13.8" text-anchor="end">-1</text>
<line x1="67.0" y1="83.56" x2="71.0" y2="83.56" stroke="#000" stroke-width="1.4"/>
<line x1="64.0" y1="63.38" x2="71.0" y2="63.38" stroke="#000" stroke-width="1.4"/>
<text transform="translate(60.20,68.22) scale(1,1.22)" font-size="13.8" text-anchor="end">0</text>
<line x1="67.0" y1="43.19" x2="71.0" y2="43.19" stroke="#000" stroke-width="1.4"/>
<line x1="64.0" y1="23.00" x2="71.0" y2="23.00" stroke="#000" stroke-width="1.4"/>
<text transform="translate(60.20,27.85) scale(1,1.22)" font-size="13.8" text-anchor="end">1</text>
<text transform="translate(283.85,395.40) scale(1,1.07)" font-size="16.4" text-anchor="middle">Potential (V versus RHE)</text>
<text transform="translate(23.00,291.60) rotate(-90) scale(1,1.05)" font-size="17">Current density (mA cm<tspan dy="-6.5" font-size="10.5">-2</tspan><tspan dy="6.5">)</tspan></text>
<text transform="translate(87.00,52.00) scale(1,0.98)" font-size="19" font-weight="bold">(a)</text>
<text transform="translate(203.20,60.50) scale(1,1.02)" font-size="19" font-weight="bold">Pt<tspan dy="6.1" font-size="10.5">ML</tspan><tspan dy="-6.1">PdNiN/C</tspan></text>
<text transform="translate(149.00,119.20)" font-size="17.5" text-anchor="end">100</text>
<text transform="translate(149.00,143.70)" font-size="17.5" text-anchor="end">225</text>
<text transform="translate(149.00,167.90)" font-size="17.5" text-anchor="end">400</text>
<text transform="translate(149.00,190.50)" font-size="17.5" text-anchor="end">625</text>
<text transform="translate(149.00,213.10)" font-size="17.5" text-anchor="end">900</text>
<text transform="translate(149.00,236.00)" font-size="17.5" text-anchor="end">1225</text>
<text transform="translate(149.00,259.80)" font-size="17.5" text-anchor="end">1600</text>
<text transform="translate(149.00,281.80)" font-size="17.5" text-anchor="end">2025</text>
<text transform="translate(149.00,301.60)" font-size="17.5" text-anchor="end">2500</text>
<text transform="translate(149.00,321.40)" font-size="17.5" text-anchor="end">3025</text>
<line x1="604.30" y1="175.09" x2="944.17" y2="35.52" stroke="#FF0000" stroke-width="2.6" stroke-linecap="round" stroke-dasharray="10,8.35,0.8,8.35" stroke-dashoffset="0"/>
<line x1="604.30" y1="311.70" x2="950.05" y2="167.87" stroke="#000099" stroke-width="2.6" stroke-linecap="round" stroke-dasharray="8.5,13.2" stroke-dashoffset="-0.5"/>
<line x1="604.30" y1="342.47" x2="950.58" y2="192.81" stroke="#FF8000" stroke-width="2.6" stroke-linecap="round" stroke-dasharray="1.8,11.2" stroke-dashoffset="0.4"/>
<rect x="636.80" y="146.21" width="8" height="8" fill="none" stroke="#FF0000" stroke-width="1"/>
<rect x="640.30" y="149.71" width="1" height="1" fill="#FF8080"/>
<rect x="651.51" y="145.30" width="8" height="8" fill="none" stroke="#FF0000" stroke-width="1"/>
<rect x="655.01" y="148.80" width="1" height="1" fill="#FF8080"/>
<rect x="671.16" y="142.75" width="8" height="8" fill="none" stroke="#FF0000" stroke-width="1"/>
<rect x="674.66" y="146.25" width="1" height="1" fill="#FF8080"/>
<rect x="698.70" y="136.11" width="8" height="8" fill="none" stroke="#FF0000" stroke-width="1"/>
<rect x="702.20" y="139.61" width="1" height="1" fill="#FF8080"/>
<rect x="740.02" y="122.39" width="8" height="8" fill="none" stroke="#FF0000" stroke-width="1"/>
<rect x="743.52" y="125.89" width="1" height="1" fill="#FF8080"/>
<rect x="808.87" y="93.49" width="8" height="8" fill="none" stroke="#FF0000" stroke-width="1"/>
<rect x="812.37" y="96.99" width="1" height="1" fill="#FF8080"/>
<rect x="946.58" y="21.65" width="8" height="8" fill="none" stroke="#FF0000" stroke-width="1"/>
<rect x="950.08" y="25.15" width="1" height="1" fill="#FF8080"/>
<circle cx="640.80" cy="292.21" r="4.8" fill="none" stroke="#0000FF" stroke-width="1"/>
<rect x="640.30" y="291.71" width="1" height="1" fill="#8080FF"/>
<circle cx="655.51" cy="288.45" r="4.8" fill="none" stroke="#0000FF" stroke-width="1"/>
<rect x="655.01" y="287.95" width="1" height="1" fill="#8080FF"/>
<circle cx="675.16" cy="282.47" r="4.8" fill="none" stroke="#0000FF" stroke-width="1"/>
<rect x="674.66" y="281.97" width="1" height="1" fill="#8080FF"/>
<circle cx="702.70" cy="272.73" r="4.8" fill="none" stroke="#0000FF" stroke-width="1"/>
<rect x="702.20" y="272.23" width="1" height="1" fill="#8080FF"/>
<circle cx="744.02" cy="256.79" r="4.8" fill="none" stroke="#0000FF" stroke-width="1"/>
<rect x="743.52" y="256.29" width="1" height="1" fill="#8080FF"/>
<circle cx="812.87" cy="227.34" r="4.8" fill="none" stroke="#0000FF" stroke-width="1"/>
<rect x="812.37" y="226.84" width="1" height="1" fill="#8080FF"/>
<circle cx="950.58" cy="164.91" r="4.8" fill="none" stroke="#0000FF" stroke-width="1"/>
<rect x="950.08" y="164.41" width="1" height="1" fill="#8080FF"/>
<path d="M635.40,322.30 L646.20,322.30 L640.80,332.20 Z" fill="none" stroke="#FF8000" stroke-width="1"/>
<rect x="640.30" y="325.20" width="1" height="1" fill="#FFB070"/>
<path d="M650.11,316.60 L660.91,316.60 L655.51,326.50 Z" fill="none" stroke="#FF8000" stroke-width="1"/>
<rect x="655.01" y="319.50" width="1" height="1" fill="#FFB070"/>
<path d="M669.76,308.50 L680.56,308.50 L675.16,318.40 Z" fill="none" stroke="#FF8000" stroke-width="1"/>
<rect x="674.66" y="311.40" width="1" height="1" fill="#FFB070"/>
<path d="M697.30,297.20 L708.10,297.20 L702.70,307.10 Z" fill="none" stroke="#FF8000" stroke-width="1"/>
<rect x="702.20" y="300.10" width="1" height="1" fill="#FFB070"/>
<path d="M738.62,280.00 L749.42,280.00 L744.02,289.90 Z" fill="none" stroke="#FF8000" stroke-width="1"/>
<rect x="743.52" y="282.90" width="1" height="1" fill="#FFB070"/>
<path d="M807.47,251.10 L818.27,251.10 L812.87,261.00 Z" fill="none" stroke="#FF8000" stroke-width="1"/>
<rect x="812.37" y="254.00" width="1" height="1" fill="#FFB070"/>
<path d="M945.18,189.10 L955.98,189.10 L950.58,199.00 Z" fill="none" stroke="#FF8000" stroke-width="1"/>
<rect x="950.08" y="192.00" width="1" height="1" fill="#FFB070"/>
<rect x="604.3" y="11.7" width="401.1" height="332.1" fill="none" stroke="#000" stroke-width="1.55"/>
<line x1="604.30" y1="343.8" x2="604.30" y2="350.3" stroke="#000" stroke-width="1.4"/>
<text transform="translate(604.30,365.30) scale(1,1.1)" font-size="13.6" text-anchor="middle">0.05</text>
<line x1="637.72" y1="343.8" x2="637.72" y2="347.3" stroke="#000" stroke-width="1.4"/>
<line x1="671.15" y1="343.8" x2="671.15" y2="350.3" stroke="#000" stroke-width="1.4"/>
<text transform="translate(671.15,365.30) scale(1,1.1)" font-size="13.6" text-anchor="middle">0.10</text>
<line x1="704.57" y1="343.8" x2="704.57" y2="347.3" stroke="#000" stroke-width="1.4"/>
<line x1="738.00" y1="343.8" x2="738.00" y2="350.3" stroke="#000" stroke-width="1.4"/>
<text transform="translate(738.00,365.30) scale(1,1.1)" font-size="13.6" text-anchor="middle">0.15</text>
<line x1="771.42" y1="343.8" x2="771.42" y2="347.3" stroke="#000" stroke-width="1.4"/>
<line x1="804.85" y1="343.8" x2="804.85" y2="350.3" stroke="#000" stroke-width="1.4"/>
<text transform="translate(804.85,365.30) scale(1,1.1)" font-size="13.6" text-anchor="middle">0.20</text>
<line x1="838.28" y1="343.8" x2="838.28" y2="347.3" stroke="#000" stroke-width="1.4"/>
<line x1="871.70" y1="343.8" x2="871.70" y2="350.3" stroke="#000" stroke-width="1.4"/>
<text transform="translate(871.70,365.30) scale(1,1.1)" font-size="13.6" text-anchor="middle">0.25</text>
<line x1="905.12" y1="343.8" x2="905.12" y2="347.3" stroke="#000" stroke-width="1.4"/>
<line x1="938.55" y1="343.8" x2="938.55" y2="350.3" stroke="#000" stroke-width="1.4"/>
<text transform="translate(938.55,365.30) scale(1,1.1)" font-size="13.6" text-anchor="middle">0.30</text>
<line x1="971.98" y1="343.8" x2="971.98" y2="347.3" stroke="#000" stroke-width="1.4"/>
<line x1="1005.40" y1="343.8" x2="1005.40" y2="350.3" stroke="#000" stroke-width="1.4"/>
<text transform="translate(1005.40,365.30) scale(1,1.1)" font-size="13.6" text-anchor="middle">0.35</text>
<line x1="597.8" y1="343.80" x2="604.3" y2="343.80" stroke="#000" stroke-width="1.4"/>
<text transform="translate(593.50,347.80) scale(1,1.12)" font-size="13" text-anchor="end">0.2</text>
<line x1="600.8" y1="321.66" x2="604.3" y2="321.66" stroke="#000" stroke-width="1.4"/>
<line x1="597.8" y1="299.52" x2="604.3" y2="299.52" stroke="#000" stroke-width="1.4"/>
<text transform="translate(593.50,303.52) scale(1,1.12)" font-size="13" text-anchor="end">0.4</text>
<line x1="600.8" y1="277.38" x2="604.3" y2="277.38" stroke="#000" stroke-width="1.4"/>
<line x1="597.8" y1="255.24" x2="604.3" y2="255.24" stroke="#000" stroke-width="1.4"/>
<text transform="translate(593.50,259.24) scale(1,1.12)" font-size="13" text-anchor="end">0.6</text>
<line x1="600.8" y1="233.10" x2="604.3" y2="233.10" stroke="#000" stroke-width="1.4"/>
<line x1="597.8" y1="210.96" x2="604.3" y2="210.96" stroke="#000" stroke-width="1.4"/>
<text transform="translate(593.50,214.96) scale(1,1.12)" font-size="13" text-anchor="end">0.8</text>
<line x1="600.8" y1="188.82" x2="604.3" y2="188.82" stroke="#000" stroke-width="1.4"/>
<line x1="597.8" y1="166.68" x2="604.3" y2="166.68" stroke="#000" stroke-width="1.4"/>
<text transform="translate(593.50,170.68) scale(1,1.12)" font-size="13" text-anchor="end">1.0</text>
<line x1="600.8" y1="144.54" x2="604.3" y2="144.54" stroke="#000" stroke-width="1.4"/>
<line x1="597.8" y1="122.40" x2="604.3" y2="122.40" stroke="#000" stroke-width="1.4"/>
<text transform="translate(593.50,126.40) scale(1,1.12)" font-size="13" text-anchor="end">1.2</text>
<line x1="600.8" y1="100.26" x2="604.3" y2="100.26" stroke="#000" stroke-width="1.4"/>
<line x1="597.8" y1="78.12" x2="604.3" y2="78.12" stroke="#000" stroke-width="1.4"/>
<text transform="translate(593.50,82.12) scale(1,1.12)" font-size="13" text-anchor="end">1.4</text>
<line x1="600.8" y1="55.98" x2="604.3" y2="55.98" stroke="#000" stroke-width="1.4"/>
<line x1="597.8" y1="33.84" x2="604.3" y2="33.84" stroke="#000" stroke-width="1.4"/>
<text transform="translate(593.50,37.84) scale(1,1.12)" font-size="13" text-anchor="end">1.6</text>
<line x1="600.8" y1="11.70" x2="604.3" y2="11.70" stroke="#000" stroke-width="1.4"/>
<text transform="translate(620.00,39.20)" font-size="16.5" font-weight="bold">(b)</text>
<text transform="translate(696.50,44.20)" font-size="17.6" font-weight="bold">Pt<tspan dy="7" font-size="10.5">ML</tspan><tspan dy="-7">PdNiN/C</tspan></text>
<text transform="translate(942.50,61.10) scale(1,1.06)" font-size="14.5" font-weight="bold" fill="#FF0000">0.9V</text>
<text transform="translate(938.50,153.00)" font-size="14" font-weight="bold" fill="#000099">0.85V</text>
<text transform="translate(940.00,227.70)" font-size="14" font-weight="bold">0.8V</text>
<text transform="translate(768.50,398.00) scale(1,0.95)" font-size="18.5" font-family="Liberation Serif">ω</text>
<text transform="translate(779.6,387.9) scale(1,1.1)" font-size="11" font-family="Liberation Serif">−1/2</text>
<text transform="translate(803.20,398.00)" font-size="19">,</text>
<text transform="translate(811.60,398.00)" font-size="19">S</text>
<text transform="translate(824.60,387.90)" font-size="12">1/2</text>
<text transform="translate(552.00,234.50) rotate(-90)" font-size="18">j<tspan font-size="11.5" dy="-7.5">-1</tspan><tspan dy="7.5">,(mA cm</tspan><tspan font-size="11.5" dy="-7.5">-2</tspan><tspan dy="7.5">)</tspan><tspan font-size="11.5" dy="-7.5">-1</tspan></text>
<rect x="363.67" y="701.89" width="23.53" height="51.51" fill="#000000" stroke="#000" stroke-width="1"/>
<rect x="387.20" y="710.51" width="23.53" height="42.89" fill="#FF0000" stroke="#000" stroke-width="1"/>
<rect x="410.73" y="710.51" width="23.53" height="42.89" fill="#0000FF" stroke="#000" stroke-width="1"/>
<rect x="505.60" y="663.10" width="23.53" height="90.30" fill="#000000" stroke="#000" stroke-width="1"/>
<rect x="529.13" y="548.91" width="23.53" height="204.49" fill="#FF0000" stroke="#000" stroke-width="1"/>
<rect x="552.67" y="686.81" width="23.53" height="66.59" fill="#0000FF" stroke="#000" stroke-width="1"/>
<rect x="647.53" y="501.50" width="23.53" height="251.90" fill="#000000" stroke="#000" stroke-width="1"/>
<rect x="671.07" y="527.36" width="23.53" height="226.04" fill="#FF0000" stroke="#000" stroke-width="1"/>
<rect x="694.60" y="622.17" width="23.53" height="131.23" fill="#0000FF" stroke="#000" stroke-width="1"/>
<rect x="328.0" y="430.2" width="425.79999999999995" height="323.2" fill="none" stroke="#000" stroke-width="1.55"/>
<line x1="398.97" y1="753.4" x2="398.97" y2="757.4" stroke="#000" stroke-width="1.4"/>
<line x1="540.90" y1="753.4" x2="540.90" y2="757.4" stroke="#000" stroke-width="1.4"/>
<line x1="682.83" y1="753.4" x2="682.83" y2="757.4" stroke="#000" stroke-width="1.4"/>
<line x1="321.5" y1="753.40" x2="328.0" y2="753.40" stroke="#000" stroke-width="1.4"/>
<text transform="translate(317.50,758.50) scale(1,1.06)" font-size="17.3" text-anchor="end">0.0</text>
<line x1="324.5" y1="731.85" x2="328.0" y2="731.85" stroke="#000" stroke-width="1.4"/>
<line x1="321.5" y1="710.31" x2="328.0" y2="710.31" stroke="#000" stroke-width="1.4"/>
<text transform="translate(317.50,715.41) scale(1,1.06)" font-size="17.3" text-anchor="end">0.2</text>
<line x1="324.5" y1="688.76" x2="328.0" y2="688.76" stroke="#000" stroke-width="1.4"/>
<line x1="321.5" y1="667.21" x2="328.0" y2="667.21" stroke="#000" stroke-width="1.4"/>
<text transform="translate(317.50,672.31) scale(1,1.06)" font-size="17.3" text-anchor="end">0.4</text>
<line x1="324.5" y1="645.67" x2="328.0" y2="645.67" stroke="#000" stroke-width="1.4"/>
<line x1="321.5" y1="624.12" x2="328.0" y2="624.12" stroke="#000" stroke-width="1.4"/>
<text transform="translate(317.50,629.22) scale(1,1.06)" font-size="17.3" text-anchor="end">0.6</text>
<line x1="324.5" y1="602.57" x2="328.0" y2="602.57" stroke="#000" stroke-width="1.4"/>
<line x1="321.5" y1="581.03" x2="328.0" y2="581.03" stroke="#000" stroke-width="1.4"/>
<text transform="translate(317.50,586.13) scale(1,1.06)" font-size="17.3" text-anchor="end">0.8</text>
<line x1="324.5" y1="559.48" x2="328.0" y2="559.48" stroke="#000" stroke-width="1.4"/>
<line x1="321.5" y1="537.93" x2="328.0" y2="537.93" stroke="#000" stroke-width="1.4"/>
<text transform="translate(317.50,543.03) scale(1,1.06)" font-size="17.3" text-anchor="end">1.0</text>
<line x1="324.5" y1="516.39" x2="328.0" y2="516.39" stroke="#000" stroke-width="1.4"/>
<line x1="321.5" y1="494.84" x2="328.0" y2="494.84" stroke="#000" stroke-width="1.4"/>
<text transform="translate(317.50,499.94) scale(1,1.06)" font-size="17.3" text-anchor="end">1.2</text>
<line x1="324.5" y1="473.29" x2="328.0" y2="473.29" stroke="#000" stroke-width="1.4"/>
<line x1="321.5" y1="451.75" x2="328.0" y2="451.75" stroke="#000" stroke-width="1.4"/>
<text transform="translate(317.50,456.85) scale(1,1.06)" font-size="17.3" text-anchor="end">1.4</text>
<line x1="324.5" y1="430.20" x2="328.0" y2="430.20" stroke="#000" stroke-width="1.4"/>
<text transform="translate(398.90,778.20) scale(1,1.05)" font-size="17.8" text-anchor="middle">Pt/C</text>
<text transform="translate(541.50,778.20) scale(1,1.05)" font-size="18" text-anchor="middle">Pt<tspan dy="6" font-size="10">ML</tspan><tspan dy="-6">Pd/C</tspan></text>
<text transform="translate(682.30,778.20) scale(1,1.05)" font-size="18" text-anchor="middle">Pt<tspan dy="6" font-size="10">ML</tspan><tspan dy="-6">PdNiN/C</tspan></text>
<text transform="translate(344.50,459.00) scale(1,1.05)" font-size="18" font-weight="bold">(c)</text>
<rect x="390.5" y="445.1" width="35.9" height="18" fill="#000000" stroke="#000" stroke-width="1"/>
<text transform="translate(431.50,459.80)" font-size="16.4">Specific Activity (mA cm<tspan dy="-7" font-size="10">-2</tspan><tspan dy="7">)</tspan></text>
<rect x="390.5" y="468.0" width="35.9" height="18" fill="#FF0000" stroke="#000" stroke-width="1"/>
<text transform="translate(431.50,482.70)" font-size="16.4">Pt Mass Activity (A mg<tspan dy="-7" font-size="10">-1</tspan><tspan dy="7">)</tspan></text>
<rect x="390.5" y="490.9" width="35.9" height="18" fill="#0000FF" stroke="#000" stroke-width="1"/>
<text transform="translate(431.50,505.60)" font-size="16.4">PGM Mass Activity (A mg<tspan dy="-7" font-size="10">-1</tspan><tspan dy="7">)</tspan></text>
</svg>
</body></html>
